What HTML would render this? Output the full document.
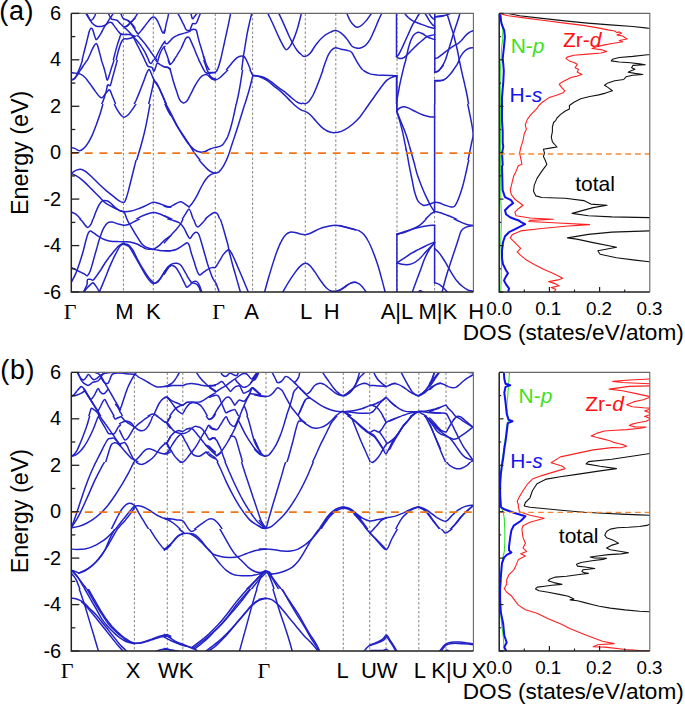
<!DOCTYPE html><html><head><meta charset="utf-8"><style>
html,body{margin:0;padding:0;background:#fff;width:685px;height:708px;overflow:hidden}
svg{display:block}
text{font-family:"Liberation Sans",sans-serif;fill:#000}
.g{font-family:"Liberation Serif",serif}
</style></head><body>
<svg width="685" height="708" viewBox="0 0 685 708">
<rect width="685" height="708" fill="#fff"/>
<clipPath id="cba"><rect x="71.3" y="13.4" width="402.09999999999997" height="278.6"/></clipPath>
<clipPath id="cda"><rect x="499.2" y="13.4" width="150.59999999999997" height="278.6"/></clipPath>
<line x1="123.4" y1="13.4" x2="123.4" y2="292" stroke="#8c8c8c" stroke-width="1.05" stroke-dasharray="2.5,2"/>
<line x1="153.3" y1="13.4" x2="153.3" y2="292" stroke="#8c8c8c" stroke-width="1.05" stroke-dasharray="2.5,2"/>
<line x1="215.3" y1="13.4" x2="215.3" y2="292" stroke="#8c8c8c" stroke-width="1.05" stroke-dasharray="2.5,2"/>
<line x1="252.6" y1="13.4" x2="252.6" y2="292" stroke="#8c8c8c" stroke-width="1.05" stroke-dasharray="2.5,2"/>
<line x1="305.3" y1="13.4" x2="305.3" y2="292" stroke="#8c8c8c" stroke-width="1.05" stroke-dasharray="2.5,2"/>
<line x1="335.8" y1="13.4" x2="335.8" y2="292" stroke="#8c8c8c" stroke-width="1.05" stroke-dasharray="2.5,2"/>
<line x1="397" y1="13.4" x2="397" y2="292" stroke="#8c8c8c" stroke-width="1.05" stroke-dasharray="2.5,2"/>
<line x1="434.6" y1="13.4" x2="434.6" y2="292" stroke="#8c8c8c" stroke-width="1.05" stroke-dasharray="2.5,2"/>
<g clip-path="url(#cba)" fill="none" stroke="#2222c6" stroke-width="1.5" stroke-linejoin="round" stroke-linecap="round">
<clipPath id="va0"><rect x="0" y="0" width="700" height="60"/></clipPath>
<g clip-path="url(#va0)">
<path d="M86.1,13.8 C86.5,14.5 87.9,16.7 88.6,17.8 C89.4,18.9 90.1,20.2 90.8,20.4 C91.6,20.6 92.4,19.7 93,18.9 C93.7,18.1 94.4,16.6 94.9,15.6 C95.3,14.7 95.5,13.8 95.6,13.5"/>
<path d="M86.8,13.5 C87.3,14.4 88.5,17.3 89.4,18.9 C90.3,20.6 91.2,22.1 92.3,23.3 C93.4,24.5 94.7,25.5 95.9,26 C97.2,26.6 98.4,26.6 99.6,26.6 C100.8,26.6 102.2,26.4 103.2,26 C104.3,25.6 105.3,24.9 106.2,24.4 C107,23.9 107.7,23.3 108.4,22.9 C109,22.6 109.6,22.2 110.2,22.2 C110.8,22.2 111.3,22.3 112,22.9 C112.7,23.6 113.5,24.9 114.2,25.9 C114.9,26.8 115.7,27.8 116.4,28.8 C117.1,29.8 117.8,30.9 118.6,31.7 C119.3,32.6 120,33.4 120.8,33.9 C121.5,34.4 122.1,34.4 123,34.5 C123.8,34.6 124.8,34.3 125.9,34.3 C127,34.4 128.4,34.5 129.5,34.6 C130.6,34.8 131.5,35.1 132.4,35.4 C133.4,35.6 134.6,36.1 135,36.2"/>
<path d="M82.1,60.2 C82.3,59.2 83.1,56.3 83.5,54.3 C84,52.4 84.4,50.9 85,48.5 C85.6,46.1 86.5,42.7 87.2,39.7 C87.9,36.8 88.8,32.9 89.4,31 C90,29.1 90.4,28.8 90.8,28.4 C91.3,28.1 91.8,28.1 92.3,28.9 C92.8,29.7 93.2,31.4 93.8,33.2 C94.4,34.9 95.2,38.7 95.9,39.4 C96.7,40 97.7,38.2 98.5,37.2 C99.4,36.1 100.1,34.7 101.1,33.2 C102,31.6 103,29.3 104,27.7 C105,26.1 105.9,24.8 106.9,23.3 C107.9,21.8 109,19.8 109.8,18.6 C110.6,17.4 111.1,16.9 111.6,16 C112.2,15.2 112.9,13.9 113.1,13.5"/>
<path d="M108.4,13.5 C108.7,14.1 109.6,16.1 110.2,17.1 C110.8,18.1 111.2,18.9 112,19.3 C112.8,19.7 114.1,19.5 114.9,19.7 C115.8,19.8 116.4,19.9 117.1,20.4 C117.8,20.9 118.6,21.9 119.3,22.6 C120,23.3 120.8,24.1 121.5,24.8 C122.2,25.4 123,26.3 123.7,26.6 C124.4,26.9 125.1,26.7 125.9,26.5 C126.6,26.2 127.3,25.7 128.1,25.1 C128.8,24.6 129.4,23.8 130.3,22.9 C131.1,22.1 132.4,20.8 133.2,20 C134,19.2 134.7,18.5 135,18.2"/>
<path d="M86.5,62.4 C86.9,61.3 88.4,58 89.4,55.8 C90.4,53.6 91.4,51 92.3,49.2 C93.2,47.5 93.8,46.2 94.5,45.2 C95.2,44.2 95.8,43.2 96.3,43.4 C96.9,43.6 97.2,44.7 97.8,46.3 C98.3,47.9 98.9,50.2 99.6,52.9 C100.3,55.6 101.7,60.8 102.2,62.4"/>
<path d="M112.7,62.4 C113.1,60.9 114.2,56.4 114.9,53.6 C115.7,50.8 116.4,48 117.1,45.6 C117.8,43.1 118.7,40.8 119.3,39 C119.9,37.2 120.2,35.4 120.8,34.6 C121.4,33.9 122.6,34.5 123,34.5"/>
<path d="M115.7,62.4 C116,60.8 117.1,55.7 117.8,52.9 C118.6,50.1 119.4,47.5 120,45.6 C120.7,43.6 121.3,42.3 121.9,41.2 C122.5,40.1 122.9,39.4 123.7,39 C124.5,38.6 125.5,39 126.6,38.9 C127.7,38.7 129.2,38.6 130.3,38.3 C131.4,38 132.4,37.5 133.2,37.2 C134,36.9 134.7,36.6 135,36.5"/>
<path d="M120.8,13.5 C121.1,14.3 122.3,17.2 123,18.2 C123.6,19.2 123.8,18.9 124.8,19.3 C125.8,19.7 127.5,19.9 128.8,20.8 C130.1,21.6 131.4,23.2 132.4,24.4 C133.5,25.6 134.6,27.5 135,28.1"/>
</g>
<clipPath id="va1"><rect x="0" y="0" width="700" height="60"/></clipPath>
<g clip-path="url(#va1)">
<path d="M136.9,35.7 C137.1,35.8 137.6,35.5 138.4,36.1 C139.1,36.7 140.3,38.3 141.3,39.4 C142.3,40.5 143.2,41.4 144.2,42.7 C145.2,43.9 146.1,45.3 147.1,46.7 C148.1,48 149.1,49.3 150,50.7 C151,52.1 152,53.7 153,55.1 C153.9,56.4 155.1,57.5 155.9,58.7 C156.7,59.9 157.4,61.8 157.7,62.4"/>
<path d="M128.1,20.8 C128.6,21.2 130.1,22.6 131.1,23.7 C132,24.8 132.8,26.1 133.6,27.3 C134.4,28.5 135.1,29.9 135.8,31 C136.5,32 137.2,33 137.6,33.5 C138.1,34 138.2,33.8 138.4,33.9"/>
<path d="M138.4,33.9 C138.8,33.4 140.2,32 141.3,30.6 C142.4,29.3 143.7,27.5 144.9,25.9 C146.1,24.3 147.5,22.5 148.6,21.1 C149.7,19.8 150.6,18.5 151.5,17.8 C152.3,17.2 153,17 153.7,17.1 C154.4,17.2 155.1,17.7 155.9,18.6 C156.6,19.4 157.3,20.8 158.1,22.2 C158.8,23.7 159.5,25.6 160.3,27.3 C161,29.1 162,32.3 162.8,32.8 C163.6,33.3 164.6,30.7 165,30.2"/>
<path d="M124.5,27.7 C125,28.1 126.4,29.3 127.4,30.2 C128.4,31.2 129.4,32.1 130.3,33.2 C131.3,34.3 132.4,35.5 133.2,36.8 C134.1,38.2 134.6,39.5 135.4,41.2 C136.3,42.9 137.4,45.1 138.4,47 C139.3,49 140.3,50.9 141.3,52.9 C142.3,54.8 143.5,57.1 144.2,58.7 C144.9,60.3 145.4,61.8 145.7,62.4"/>
<path d="M132.5,36.1 C133.1,36.7 135,38.4 136.2,39.7 C137.4,41.1 138.7,42.7 139.8,44.1 C140.9,45.6 141.8,46.9 142.7,48.5 C143.7,50.1 144.5,51.3 145.7,53.6 C146.8,55.9 149,60.9 149.7,62.4"/>
<path d="M153,62.4 C153.4,61.5 154.8,59.3 155.9,57.3 C157,55.2 158.4,52 159.5,50 C160.6,47.9 161.5,46.3 162.4,44.8 C163.4,43.4 164.6,41.8 165,41.2"/>
<path d="M157.3,62.4 C157.8,60.8 159.3,55.3 160.3,52.9 C161.2,50.4 162.4,48.9 163.2,47.8 C164,46.7 164.7,46.5 165,46.3"/>
<path d="M125.9,26.6 C126.3,26.4 127.4,25.7 128.1,25.1 C128.9,24.5 129.5,23.8 130.3,22.9 C131.2,22.1 132.3,21.1 133.2,20 C134.2,18.9 135.1,17.5 135.8,16.4 C136.5,15.3 137.3,13.9 137.6,13.5"/>
</g>
<clipPath id="va2"><rect x="0" y="0" width="700" height="60"/></clipPath>
<g clip-path="url(#va2)">
<path d="M164.3,33.2 C164.4,32.7 164.7,31.7 165,30.2 C165.3,28.8 165.7,26.4 166.1,24.4 C166.5,22.5 167.1,20.4 167.6,18.6 C168,16.7 168.5,14.3 168.6,13.5"/>
<path d="M177.8,13.5 C178.2,14.2 179.4,16.1 180.3,17.8 C181.2,19.5 182.3,21.8 183.2,23.7 C184.2,25.6 185.2,28.1 185.8,29.2 C186.4,30.2 186.4,29.9 186.9,30.1 C187.4,30.3 188.5,30.5 189.1,30.6 C189.6,30.7 190,30.6 190.2,30.6"/>
<path d="M164.3,42.5 C164.4,42.5 164.6,42.5 165,42.7 C165.4,42.9 166.1,43.9 166.8,43.8 C167.6,43.6 168.3,42.5 169.4,41.6 C170.4,40.6 171.7,38.9 173,37.9 C174.4,36.9 175.9,36 177.4,35.4 C178.9,34.7 180.3,34.4 181.8,33.9 C183.2,33.4 185,33 186.2,32.6 C187.4,32.2 188.3,32 189.1,31.6 C189.9,31.2 190.3,30.6 190.9,30.2 C191.5,29.9 192.1,29.5 192.7,29.4 C193.4,29.3 194.3,29.3 194.9,29.5 C195.5,29.7 195.9,29.5 196.4,30.6 C196.9,31.7 197.4,34.2 197.8,36.1 C198.3,38 198.7,39.7 199.3,41.9 C199.9,44.1 200.8,46.8 201.5,49.2 C202.2,51.7 203,54.3 203.7,56.5 C204.4,58.7 205.2,61.4 205.5,62.4"/>
<path d="M189.8,31 C190.1,30.2 190.8,27.8 191.3,26.6 C191.8,25.4 192.1,24.2 192.7,23.7 C193.3,23.2 194.3,23.8 194.9,23.7 C195.5,23.6 195.8,23.9 196.4,22.9 C197,22 197.9,19.4 198.6,17.8 C199.2,16.3 200.1,14.2 200.4,13.5"/>
<path d="M190.9,13.5 C191.2,14.3 191.8,18 192.4,18.6 C192.9,19.2 193.5,18 194.2,17.1 C194.9,16.3 196.3,14.1 196.8,13.5"/>
<path d="M164.3,47.8 C164.4,48.1 164.5,48.6 165,50 C165.5,51.3 166.5,53.7 167.2,55.8 C167.9,57.9 169,61.3 169.4,62.4"/>
<path d="M172.3,62.4 C173,61.3 175.2,58.1 176.7,55.8 C178.1,53.5 179.8,50.8 181.1,48.5 C182.3,46.2 183.1,43.7 184,41.9 C184.8,40.2 185.3,38.6 186.2,37.9 C187,37.2 188.2,36.9 189.1,37.5 C189.9,38.2 190.4,40.1 191.3,41.9 C192.1,43.8 193.2,46.2 194.2,48.5 C195.2,50.8 196.1,53.5 197.1,55.8 C198.1,58.1 199.5,61.3 200,62.4"/>
</g>
<clipPath id="va3"><rect x="0" y="0" width="302" height="70"/></clipPath>
<g clip-path="url(#va3)">
<path d="M203.5,56.2 C203.8,56.9 204.4,58.9 205,60.6 C205.6,62.3 206.3,64.7 207.2,66.4 C208,68.1 209.1,69.8 210.1,70.8 C211.1,71.7 212.2,72 213,72.2 C213.9,72.4 214.4,72.7 215.2,71.9 C216.1,71.2 217.2,70.2 218.1,67.9 C219.1,65.5 220.1,61.5 221.1,57.6 C222,53.7 223,48.9 224,44.5 C225,40.1 226,35.3 226.9,31.4 C227.7,27.5 228.5,24.2 229.1,21.1 C229.7,18.1 230.4,14.4 230.7,13.1"/>
<path d="M205,72.2 C205.7,72.8 207.9,74.8 209.4,75.9 C210.8,77 212.5,78.2 213.8,78.8 C215,79.4 215.5,79.9 216.7,79.5 C217.9,79.2 219.4,78.3 221.1,76.6 C222.8,74.9 225,71.7 226.9,69.3 C228.8,66.9 231,64 232.7,62 C234.4,60.1 235.7,58.7 237.1,57.6 C238.6,56.6 240.3,56 241.5,55.9 C242.7,55.8 243.4,55.9 244.4,56.9 C245.4,57.9 246.4,59.9 247.3,62 C248.3,64.1 249.4,67 250.3,69.3 C251.1,71.6 251.7,73.8 252.4,75.9 C253.2,78 254.3,80.7 254.6,81.7"/>
<path d="M240,81.7 C240.3,79.7 241.3,73.3 241.8,69.3 C242.3,65.3 242.7,61.5 243.2,57.6 C243.8,53.7 244.5,50.1 245.1,46 C245.8,41.8 246.6,36.7 247.3,32.8 C248.1,28.9 248.8,25.9 249.5,22.6 C250.3,19.3 251.5,14.7 251.9,13.1"/>
<path d="M203.5,71.1 C203.8,71.3 204.3,71.7 205,72.2 C205.7,72.8 206.8,73.5 207.9,74.4 C209,75.4 210.4,77 211.6,78.1 C212.8,79.1 214.6,80.3 215.2,80.7"/>
<path d="M252.4,75.9 C253.3,76 255.7,76 257.6,76.3 C259.4,76.7 261.4,77.2 263.4,78.1 C265.3,79 268.3,81.1 269.2,81.7"/>
<path d="M253.2,76.9 C254.4,77 258.3,77.1 260.5,77.6 C262.7,78.1 264.9,79.1 266.3,79.8 C267.8,80.5 268.7,81.4 269.2,81.7"/>
<path d="M267.8,13.1 C268.7,15.2 271.7,21.3 273.6,25.5 C275.6,29.8 277.6,34.9 279.5,38.7 C281.3,42.4 283.3,46.3 284.6,48.1 C285.8,50 285.9,49.8 286.8,49.6 C287.6,49.4 288.7,48 289.7,46.7 C290.6,45.3 291.4,44.4 292.6,41.6 C293.8,38.8 295.5,34.6 297,29.9 C298.5,25.2 300.7,15.9 301.5,13.1"/>
<path d="M278.7,13.1 C279.6,14.9 282.1,20.3 283.8,24.1 C285.5,27.8 287.5,32.6 288.9,35.7 C290.4,38.9 291.3,40.6 292.6,43 C293.9,45.5 295.5,48.4 297,50.3 C298.4,52.3 299.9,53.7 301.4,54.7 C302.8,55.7 305,56.2 305.7,56.5"/>
</g>
<clipPath id="va4"><rect x="302" y="0" width="398" height="70"/></clipPath>
<g clip-path="url(#va4)">
<path d="M297.8,54.4 C298.2,54.5 298.8,54.4 300,54.7 C301.2,55.1 303.4,56.7 305.1,56.5 C306.8,56.2 308.4,55.3 310.2,53.3 C312,51.3 313.9,47.3 316.1,44.5 C318.2,41.7 320.9,38.5 323.4,36.5 C325.8,34.4 328.6,33.1 330.7,32.1 C332.7,31.1 333.8,30.5 335.5,30.6 C337.2,30.7 339,31.5 340.9,32.8 C342.7,34.2 344.9,36.5 346.7,38.7 C348.5,40.8 350.2,44.4 351.8,46 C353.4,47.5 354.6,47.9 356.2,48.1 C357.8,48.4 359.7,48.2 361.3,47.7 C362.9,47.2 364.2,46.6 365.7,45.2 C367.2,43.8 368.6,41.9 370.1,39.4 C371.5,36.8 373.1,32.9 374.5,29.9 C375.8,26.9 376.9,23.9 378.1,21.1 C379.3,18.3 381.3,14.4 381.9,13.1"/>
<path d="M346.7,13.1 C347.3,14.4 349,18.9 350.4,21.1 C351.7,23.3 353.5,25.2 354.7,26.2 C356,27.3 356.6,27.4 357.7,27.3 C358.8,27.1 359.9,26.7 361.3,25.5 C362.8,24.4 364.7,22.5 366.4,20.4 C368.2,18.3 370.8,14.3 371.7,13.1"/>
<path d="M318.2,81.7 C319.1,79.4 321.8,72.1 323.4,67.9 C324.9,63.6 326.4,59.1 327.7,56.2 C329.1,53.3 330.1,51.7 331.4,50.3 C332.7,48.9 333.9,47.9 335.5,47.7 C337.1,47.5 338.8,48.7 340.9,49.2 C343,49.7 346.4,50.1 348.2,50.6 C350,51.2 350.6,51.1 351.8,52.5 C353,53.9 354.1,56.8 355.5,59.1 C356.8,61.4 358.4,64.3 359.9,66.4 C361.3,68.5 362.5,70.3 364.2,71.5 C365.9,72.7 367.9,73.1 370.1,73.7 C372.3,74.3 374.9,74.8 377.4,75.2 C379.8,75.5 382.4,75.8 384.7,75.9 C387,76 389.2,76 391.2,75.9 C393.3,75.8 395.9,75.5 396.8,75.4"/>
<path d="M383.9,81.7 C385,81.1 388.4,79.1 390.5,78.1 C392.7,77 395.7,75.9 396.8,75.4"/>
</g>
<clipPath id="va5"><rect x="0" y="0" width="700" height="60"/></clipPath>
<g clip-path="url(#va5)">
<path d="M396.5,13.5 396.5,56.5"/>
<path d="M434.8,13.5 434.8,62.4"/>
<path d="M396.5,56.5 C396.9,56.2 398,55.7 398.8,54.3 C399.7,53 400.7,50.8 401.8,48.5 C402.9,46.2 404.2,43.1 405.4,40.5 C406.6,37.8 408,34.9 409.1,32.4 C410.2,30 411.1,27.6 412,25.9 C412.8,24.2 413.4,23.4 414.2,22.2 C414.9,21 415.5,20 416.4,18.6 C417.2,17.1 418.9,14.3 419.4,13.5"/>
<path d="M404.7,13.5 C405.3,14.1 407.1,16.3 408.3,17.5 C409.5,18.6 411,19.7 412,20.4 C413,21.1 413.1,21 414.2,21.5 C415.3,22 417,22.7 418.5,23.3 C420.1,23.9 422,24.5 423.7,25.1 C425.4,25.7 426.9,26.4 428.8,27 C430.6,27.5 433.8,28.2 434.8,28.4"/>
<path d="M396.5,56.5 C396.8,56.8 397.4,57.6 398.1,58 C398.9,58.3 400.1,58.6 401,58.6 C402,58.5 403.1,58.1 403.9,57.6 C404.8,57.2 405.3,56.6 406.1,55.8 C407,55 407.8,54.1 409.1,52.9 C410.3,51.7 412,50 413.4,48.5 C414.9,47 416.4,45.5 417.8,44.1 C419.3,42.8 420.7,41.7 422.2,40.5 C423.7,39.3 425.1,37.7 426.6,36.8 C428,36 429.6,35.7 431,35.4 C432.3,35 434.2,34.7 434.8,34.6"/>
<path d="M405.3,62.4 C405.5,61.4 406,58.8 406.5,56.5 C407,54.2 407.7,51.1 408.3,48.5 C409,45.9 409.7,43.4 410.5,41.2 C411.4,39 412.5,36.8 413.4,35.4 C414.4,34 415.4,33.3 416.4,32.8 C417.3,32.3 418.3,32.3 419.3,32.4 C420.3,32.6 421.2,33 422.2,33.5 C423.2,34 424.1,34.7 425.1,35.4 C426.1,36 426.9,36.6 428,37.2 C429.1,37.7 430.6,38.3 431.7,38.6 C432.8,39 434.3,39.3 434.8,39.4"/>
<path d="M425.1,13.5 C425.5,14.1 426.6,15.9 427.3,17.1 C428,18.3 428.8,19.7 429.5,20.8 C430.2,21.9 431,22.8 431.7,23.7 C432.4,24.5 433.4,25.4 433.9,25.9 C434.4,26.3 434.7,26.2 434.8,26.2"/>
<path d="M428.8,13.5 C429.1,13.9 430.2,15.5 431,16.4 C431.7,17.2 432.5,18.1 433.1,18.6 C433.8,19.1 434.5,19.2 434.8,19.3"/>
<path d="M434.8,17.1 C435.2,17 436,16.6 436.8,16.4 C437.6,16.2 438.6,16.1 439.7,16 C440.8,15.9 442.8,15.7 443.4,15.6"/>
</g>
<clipPath id="va6"><rect x="0" y="0" width="700" height="60"/></clipPath>
<g clip-path="url(#va6)">
<path d="M434.7,16.7 C435.4,16.7 437.4,16.9 438.8,16.7 C440.2,16.6 441.8,16.3 443.1,16 C444.5,15.7 445.6,15.3 446.8,14.9 C447.9,14.5 449.5,13.7 450.1,13.5"/>
<path d="M446.8,13.5 C447.2,14.6 448.2,17.7 449,20 C449.7,22.3 450.4,25 451.2,27.3 C451.9,29.6 452.7,31.6 453.4,33.9 C454,36.2 454.6,38.8 455.2,41.2 C455.8,43.6 456.4,45.8 457,48.5 C457.6,51.2 458.4,54.9 458.8,57.3 C459.3,59.6 459.4,61.5 459.6,62.4"/>
<path d="M459.9,13.5 C459.6,14.7 458.5,18.4 457.7,20.8 C457,23.1 456.3,25.1 455.5,27.3 C454.8,29.5 454.1,31.6 453.4,33.9 C452.6,36.2 451.9,38.8 451.2,41.2 C450.4,43.6 449.7,46.1 449,48.5 C448.2,50.9 447.5,53.5 446.8,55.8 C446.1,58.1 445,61.3 444.6,62.4"/>
<path d="M434.7,58.4 C435.3,58.2 436.6,58.4 438,57.6 C439.4,56.8 441.3,55 443.1,53.6 C445,52.2 447,50.6 449,49.2 C450.9,47.8 453.4,46.1 454.8,45.2 C456.3,44.3 456.6,44.5 457.7,43.8 C458.8,43 460,41.9 461.4,40.5 C462.7,39.1 464.4,36.7 465.8,35.4 C467.1,34 468.1,33.3 469.4,32.4 C470.8,31.6 473.1,30.8 473.8,30.5"/>
<path d="M458.8,60.2 C459.3,59.3 460.4,56.6 461.4,55.1 C462.4,53.5 463.8,51.8 465,50.7 C466.3,49.6 467.2,49 468.7,48.5 C470.1,48 472.9,47.8 473.8,47.6"/>
</g>
<clipPath id="va7"><rect x="0" y="60" width="700" height="44"/></clipPath>
<g clip-path="url(#va7)">
<path d="M71.3,72.6 C71.8,72.7 73.4,72.8 74.4,73 C75.4,73.1 76.2,73.2 77.3,73.5 C78.4,73.7 79.7,73.8 80.9,74.4 C82.2,75 83.4,75.8 84.6,77 C85.8,78.1 87,79.8 88.2,81.4 C89.5,82.9 90.7,84.8 91.9,86.5 C93.1,88.2 94.3,89.9 95.5,91.6 C96.8,93.2 98.2,95.3 99.2,96.3 C100.2,97.4 100.9,97.7 101.5,97.8 C102.2,97.8 102.6,97.4 103.2,96.7 C103.9,96 104.7,94.7 105.4,93.8 C106.1,92.9 106.9,91.8 107.6,91.2 C108.3,90.6 109,89.3 109.8,90.1 C110.6,90.9 111.4,93.8 112.3,96 C113.2,98.1 114.5,101.2 115.3,103.3 C116,105.3 116.8,107.5 117.1,108.4"/>
<path d="M99.6,108.4 C100,107.5 101.3,105.1 102.1,103.3 C102.9,101.4 103.6,99.6 104.3,97.4 C105,95.2 105.9,92.2 106.5,90.1 C107,88 107.1,85.8 107.6,85 C108.1,84.2 108.9,85.5 109.4,85.5 C109.9,85.5 110,86.2 110.5,85 C111,83.8 111.7,80.9 112.3,78.4 C113,76 113.8,73.1 114.5,70.4 C115.3,67.7 116.1,64.5 116.7,62.4 C117.3,60.3 117.7,58.4 118,57.6"/>
<path d="M100.5,57.6 C101,59.2 102.7,63.9 103.6,66.8 C104.5,69.6 105.2,72.5 105.8,74.8 C106.4,77 106.6,80.3 107.2,80.3 C107.8,80.3 108.7,76.9 109.4,74.8 C110.1,72.7 110.9,69.8 111.6,67.5 C112.3,65.2 113.3,62.6 113.8,60.9 C114.3,59.3 114.5,58.2 114.7,57.6"/>
<path d="M71.3,79.9 C71.7,79.8 72.9,79.7 73.6,79.2 C74.4,78.7 75.1,77.8 75.8,77 C76.6,76.1 77.3,75.2 78,74.1 C78.8,73 79.4,71.7 80.2,70.4 C81.1,69.1 82.2,67.5 83.1,66 C84.1,64.6 85.1,63 86.1,61.6 C87.1,60.3 88.6,58.3 89.1,57.6"/>
<path d="M71.3,79.9 C71.6,79.8 72.3,79.9 72.9,79.5 C73.6,79.2 74.4,78.5 75.1,77.7 C75.8,76.9 76.4,75.9 76.9,74.8 C77.5,73.7 77.8,72.5 78.4,71.1 C78.9,69.8 79.7,68.2 80.2,66.8 C80.8,65.3 81.2,63.9 81.7,62.4 C82.2,60.9 83,58.4 83.3,57.6"/>
</g>
<clipPath id="va8"><rect x="0" y="60" width="700" height="44"/></clipPath>
<g clip-path="url(#va8)">
<path d="M132,108.4 C132.7,107 134.8,103.1 136.1,100.3 C137.3,97.5 138.5,94.6 139.7,91.6 C140.9,88.5 142.3,85 143.4,82.1 C144.5,79.2 145.4,76.1 146.3,74.1 C147.1,72 147.9,70.3 148.5,69.7 C149.1,69.1 149.3,69.4 149.9,70.4 C150.5,71.4 151.4,73.8 152.1,75.5 C152.8,77.2 153.5,79 154.3,80.6 C155.2,82.2 156.3,83.5 157.2,85 C158.1,86.5 158.9,87.8 159.8,89.4 C160.6,91 161.4,92.4 162.3,94.5 C163.2,96.6 164.4,99.5 165.3,101.8 C166.1,104.1 167.2,107.3 167.6,108.4"/>
<path d="M153.9,80.3 C154.4,80.8 156,82.3 156.9,83.5 C157.7,84.8 158.3,86.3 159.1,87.9 C159.8,89.5 160.5,91.2 161.2,93 C162,94.9 162.9,96.8 163.8,98.9 C164.6,100.9 165.7,103.9 166.4,105.4 C167,107 167.3,107.9 167.4,108.4"/>
<path d="M147.7,108.4 C148.1,106.8 149.2,102 149.9,98.9 C150.7,95.7 151.5,92.1 152.1,89.4 C152.7,86.7 153.2,84.4 153.6,82.8 C153.9,81.2 154.2,80.4 154.3,79.9"/>
<path d="M143.4,57.6 C143.7,58.3 144.8,60.3 145.5,61.6 C146.3,63 147,65.2 147.7,66 C148.5,66.9 149.2,66.5 149.9,66.8 C150.7,67 151.4,66.7 152.1,67.5 C152.8,68.3 153.3,71.6 153.9,71.5 C154.5,71.4 155.2,68.2 155.8,66.8 C156.3,65.4 156.5,63.5 157.2,63.1 C158,62.7 159.1,64 160.1,64.6 C161.2,65.2 162.6,66.3 163.8,66.8 C165,67.2 166.4,66.8 167.4,67.1 C168.5,67.5 169.9,68.6 170.4,68.9"/>
<path d="M147.7,57.6 C148,58.3 148.7,60.7 149.2,61.6 C149.7,62.6 150.1,63.5 150.7,63.5 C151.2,63.5 151.9,62.6 152.5,61.6 C153.1,60.7 154,58.3 154.3,57.6"/>
<path d="M154.3,57.6 C154.5,58.1 155.2,59.5 155.8,60.2 C156.3,60.9 157.1,62.1 157.6,61.6 C158.1,61.2 158.5,58.3 158.7,57.6"/>
<path d="M167.4,57.6 C167.7,58.3 168.4,60.6 168.9,61.6 C169.4,62.7 170.1,63.8 170.4,64.2"/>
</g>
<clipPath id="va9"><rect x="0" y="60" width="700" height="44"/></clipPath>
<g clip-path="url(#va9)">
<path d="M165,67.1 C165.5,67.2 167.1,67.1 167.9,67.5 C168.8,67.9 169.5,68.5 170.1,69.7 C170.7,70.9 171,72.6 171.6,74.8 C172.2,77 172.9,80 173.8,82.8 C174.6,85.6 175.7,88.8 176.7,91.6 C177.7,94.4 178.5,97.7 179.6,99.6 C180.7,101.5 182,102.6 183.2,102.9 C184.5,103.1 185.7,102.5 186.9,101.1 C188.1,99.7 189.3,96.8 190.5,94.5 C191.8,92.2 192.9,89.6 194.2,87.2 C195.5,84.8 197.2,81.8 198.6,79.9 C199.9,78 201,76.8 202.2,75.9 C203.4,75 204.8,74.4 205.9,74.4 C207,74.4 207.8,75.2 208.8,75.9 C209.8,76.6 210.6,78.1 211.7,78.8 C212.8,79.5 214.8,79.7 215.4,79.9"/>
<path d="M167.9,57.6 C168.1,58.4 168.6,61.2 169,62.4 C169.4,63.5 169.4,64.7 170.1,64.6 C170.8,64.4 172.1,62.8 173,61.6 C174,60.5 175.5,58.3 175.9,57.6"/>
<path d="M197.5,57.6 C198,58.7 199.7,61.8 200.8,63.8 C201.8,65.8 202.8,68.2 203.7,69.7 C204.5,71.1 205,72 205.9,72.6 C206.7,73.2 207.7,73.3 208.8,73.3 C209.9,73.3 211.4,72.7 212.4,72.6 C213.5,72.5 214.9,72.6 215.4,72.6"/>
<path d="M203,57.6 C203.3,58.7 204.4,61.7 205.1,63.8 C205.9,66 206.6,68.6 207.3,70.4 C208.1,72.2 208.8,73.6 209.5,74.8 C210.3,76 210.7,77 211.7,77.7 C212.7,78.4 214.8,78.9 215.4,79.2"/>
<path d="M165,101.8 C165.2,102.3 166,103.6 166.5,104.7 C166.9,105.8 167.5,107.8 167.7,108.4"/>
</g>
<clipPath id="va10"><rect x="0" y="70" width="265" height="34"/><rect x="265" y="70" width="37" height="650"/></clipPath>
<g clip-path="url(#va10)">
<path d="M209.3,72.4 C210.2,72.4 213.6,73 215.1,72.4 C216.6,71.8 217.1,70.6 218,68.8 C219,66.9 220.3,63 220.9,61.5 C221.6,59.9 221.6,59.6 221.7,59.3"/>
<path d="M209.3,76.4 C209.9,76.8 211.8,78.4 212.9,79 C214,79.5 214.6,80 215.8,79.7 C217.1,79.5 218.5,78.9 220.2,77.5 C221.9,76.2 224.1,73.6 226.1,71.7 C228,69.7 230.1,67.9 231.9,65.8 C233.6,63.8 235.8,60.4 236.6,59.3"/>
<path d="M244.7,59.3 C245.3,60.4 246.9,63.8 248,65.8 C249,67.9 250,70.1 250.9,71.7 C251.7,73.3 251.8,74.6 253.1,75.3 C254.3,76.1 256.4,75.7 258.2,76.1 C260,76.4 261.8,76.5 264,77.5 C266.2,78.5 268.9,80.2 271.3,81.9 C273.7,83.6 276.2,85.9 278.6,87.7 C281,89.6 283.7,91.1 285.9,92.8 C288.1,94.5 289.8,96.4 291.8,98 C293.7,99.5 295.6,101.4 297.6,102.3 C299.5,103.3 301.7,103.7 303.4,103.8 C305.1,103.9 306.6,103.4 307.8,103.1 C309,102.8 310.2,102.2 310.7,102"/>
<path d="M253.1,75.3 C254.2,75.6 257.3,75.9 259.6,76.8 C261.9,77.6 264.5,78.9 266.9,80.4 C269.4,82 271.8,84.3 274.2,86.3 C276.7,88.2 279.1,89.9 281.5,92.1 C284,94.3 286.6,97.2 288.8,99.4 C291,101.6 292.7,103.6 294.7,105.3 C296.6,107 298.6,108.5 300.5,109.6 C302.5,110.7 304.6,111 306.4,111.8 C308.1,112.6 310,113.9 310.7,114.3"/>
<path d="M228,133.7 C228.9,130.7 231.7,121.4 233.4,115.5 C235,109.5 236.5,103.6 237.7,98 C239,92.4 239.8,86.8 240.7,81.9 C241.5,77 242.1,72.5 242.8,68.8 C243.6,65 244.7,60.9 245,59.3"/>
<path d="M236.7,133.7 C237.5,131.2 239.9,123.4 241.2,118.4 C242.6,113.4 243.7,108.7 245,103.8 C246.4,98.9 248.1,93.9 249.4,89.2 C250.7,84.5 252.2,78 252.8,75.8"/>
</g>
<clipPath id="va11"><rect x="302" y="70" width="398" height="650"/></clipPath>
<g clip-path="url(#va11)">
<path d="M299.3,102 C300.2,102.3 303.5,103.9 305.1,103.8 C306.7,103.7 307.4,103.1 308.8,101.6 C310.1,100.1 311.7,97.8 313.1,95 C314.6,92.2 316.1,88.5 317.5,84.8 C319,81.2 320.6,76.8 321.9,73.1 C323.2,69.5 324.6,65.2 325.5,62.9 C326.4,60.6 327,59.9 327.3,59.3"/>
<path d="M299.3,110.2 C300.2,110.4 303.3,110.6 305.1,111.4 C306.9,112.1 308.4,113.1 310.2,114.7 C312,116.4 313.9,119 316.1,121.3 C318.2,123.6 320.9,126.8 323.4,128.6 C325.8,130.4 328.2,131.7 330.7,132.3 C333.1,132.9 335.5,132.7 338,132.3 C340.4,131.8 342.8,130.7 345.3,129.3 C347.7,128 350.1,126.3 352.6,124.2 C355,122.2 357.4,119.9 359.9,116.9 C362.3,114 364.7,110.1 367.2,106.7 C369.6,103.3 372,99.9 374.5,96.5 C376.9,93.1 379.6,89.1 381.8,86.3 C383.9,83.5 385.6,81.3 387.6,79.7 C389.5,78.1 391.9,77.4 393.4,76.8 C395,76.1 396.2,75.9 396.8,75.8"/>
<path d="M355.9,59.3 C356.6,60.4 358.5,63.9 359.9,65.8 C361.2,67.8 362.5,69.6 364.2,70.9 C365.9,72.3 367.9,73.2 370.1,73.9 C372.3,74.5 374.9,74.6 377.4,74.9 C379.8,75.1 382.2,75.2 384.7,75.3 C387.1,75.5 390,75.5 392,75.6 C394,75.7 396,75.7 396.8,75.8"/>
<path d="M396.8,75.8 396.8,110.4"/>
</g>
<clipPath id="va12"><rect x="0" y="60" width="700" height="44"/></clipPath>
<g clip-path="url(#va12)">
<path d="M396.5,75.9 396.5,108.4"/>
<path d="M392.6,75.9 L396.5,75.9"/>
<path d="M406.6,57.6 C406.3,58.7 405.4,61.3 404.7,63.8 C404,66.3 403.2,69.6 402.5,72.6 C401.8,75.6 401,78.9 400.3,82.1 C399.6,85.3 399,88.5 398.5,91.6 C397.9,94.6 397.3,98.1 397,100.3 C396.7,102.5 396.6,103.7 396.6,104.7 C396.7,105.7 396.8,106.2 397.4,106.5 C398,106.9 399.2,107 400.3,106.9 C401.4,106.8 402.7,106.2 403.9,106.2 C405.2,106.2 406.6,106.5 407.6,106.9 C408.6,107.3 409.7,108.1 410.2,108.4"/>
<path d="M434.8,57.6 434.8,72.2"/>
<path d="M434.8,80.6 434.8,108.4"/>
<path d="M434.8,72.2 C435.3,72.1 436.6,72.1 437.5,71.5 C438.5,71 439.5,70 440.4,68.9 C441.4,67.9 442.9,65.8 443.4,65.2"/>
<path d="M434.8,80.6 C435.4,80.6 436.8,80.5 438.3,80.5 C439.7,80.4 442.5,80.3 443.4,80.3"/>
</g>
<clipPath id="va13"><rect x="0" y="60" width="700" height="44"/></clipPath>
<g clip-path="url(#va13)">
<path d="M434.7,71.9 C435.2,71.8 436.4,72 437.3,71.5 C438.2,71 439.2,70.1 440.2,68.9 C441.2,67.8 442.3,66 443.1,64.6 C444,63.1 444.8,61.3 445.3,60.2 C445.8,59 446.1,58.1 446.2,57.6"/>
<path d="M434.7,80.6 C435.2,80.7 436.1,81 437.3,81 C438.5,81 440.2,81.1 441.7,80.6 C443.1,80.2 444.6,79.5 446.1,78.4 C447.5,77.3 449.1,75.6 450.4,74.1 C451.8,72.5 453,70.5 454.1,68.9 C455.2,67.4 456.2,65.9 457,64.6 C457.8,63.2 458.3,62.1 458.8,60.9 C459.3,59.8 459.9,58.2 460.1,57.6"/>
<path d="M458.9,57.6 C459,58.1 459.1,58.7 459.3,60.2 C459.6,61.7 460.1,64.1 460.7,66.8 C461.2,69.4 462.1,73.1 462.8,76.2 C463.6,79.4 464.3,82.5 465,85.7 C465.8,89 466.5,92.2 467.2,96 C467.9,99.7 468.9,106.3 469.2,108.4"/>
</g>
<clipPath id="va14"><rect x="0" y="104" width="700" height="56"/></clipPath>
<g clip-path="url(#va14)">
<path d="M71.2,147.4 C71.9,147.7 74.5,148.3 75.8,148.9 C77.2,149.5 78.3,150.8 79.5,150.8 C80.7,150.8 81.8,150.1 83.1,148.9 C84.5,147.7 86.1,146 87.5,143.8 C89,141.6 90.4,138.9 91.9,135.8 C93.4,132.6 94.9,128.3 96.3,124.8 C97.6,121.3 98.8,118 99.9,114.6 C101,111.2 102.1,106.9 102.8,104.4 C103.6,101.8 104.3,100.1 104.6,99.3"/>
<path d="M112,99.3 C112.8,100.9 115.2,106.1 116.7,108.8 C118.2,111.4 119.9,113.9 121.1,115.3 C122.3,116.7 122.9,117.2 124,117.2 C125.1,117.2 126.4,116.4 127.7,115.3 C128.9,114.3 130,112.8 131.3,110.9 C132.7,109.1 134.5,106.3 135.7,104.4 C136.8,102.4 137.8,100.1 138.2,99.3"/>
<path d="M132.5,173.7 C133.3,171.2 135.6,163.4 137.2,158.4 C138.7,153.4 140.2,148.7 141.5,143.8 C142.9,138.9 144.1,134.1 145.2,129.2 C146.3,124.3 147.3,119 148.1,114.6 C149,110.2 149.8,105.5 150.3,102.9 C150.8,100.4 151,99.9 151.2,99.3"/>
<path d="M163.1,99.3 C163.8,100.9 165.8,106.1 167.1,108.8 C168.3,111.4 170.1,114.2 170.7,115.3"/>
<path d="M71.2,172.3 C71.9,171.9 74.3,170.6 75.8,170.1 C77.3,169.6 78.9,169.2 80.2,169.3 C81.6,169.5 82.7,170.1 83.9,170.8 C85,171.5 86.7,173.2 87.2,173.7"/>
</g>
<clipPath id="va15"><rect x="0" y="104" width="700" height="56"/></clipPath>
<g clip-path="url(#va15)">
<path d="M164.6,101.5 C165.6,103.4 168.8,109.2 170.8,113.1 C172.9,117 174.7,121.2 176.7,124.8 C178.6,128.5 180.6,131.9 182.5,135 C184.5,138.2 186.4,141.4 188.4,143.8 C190.3,146.2 192.3,148.2 194.2,149.6 C196.1,151 198.3,151.8 200,152.1 C201.7,152.5 203,152.2 204.4,151.8 C205.9,151.4 207.3,150.3 208.8,149.6 C210.3,149 211.7,148.3 213.2,147.9 C214.6,147.4 216.1,147.4 217.6,147 C219,146.6 220.7,146.2 221.9,145.3 C223.2,144.4 223.9,143.1 224.9,141.6 C225.8,140.1 226.8,138.8 227.8,136.5 C228.7,134.2 229.7,131.1 230.7,127.7 C231.7,124.3 232.8,119.7 233.6,116.1 C234.5,112.4 235.2,108.6 235.8,105.8 C236.4,103 237.1,100.4 237.4,99.3"/>
<path d="M164.6,102.6 C165.6,104.6 168.8,110.8 170.8,114.6 C172.9,118.4 174.5,121.9 176.7,125.5 C178.9,129.2 181.8,133.2 184,136.5 C186.2,139.8 188.1,142.6 189.8,145.3 C191.5,147.9 192.5,150.1 194.2,152.6 C195.9,155 198.1,157.5 200,159.9 C202,162.2 203.9,164.5 205.9,166.4 C207.8,168.4 210.1,170.4 211.7,171.5 C213.3,172.6 214.1,173 215.4,173 C216.6,173 217.7,172.7 219,171.5 C220.4,170.3 221.9,168.1 223.4,165.7 C224.9,163.3 226.3,160.6 227.8,156.9 C229.2,153.3 230.7,148.2 232.2,143.8 C233.6,139.4 235.2,134.8 236.5,130.7 C237.9,126.5 239,122.9 240.2,119 C241.4,115.1 242.8,110.6 243.8,107.3 C244.8,104 245.8,100.6 246.2,99.3"/>
</g>
<clipPath id="va16"><rect x="0" y="104" width="700" height="47"/></clipPath>
<g clip-path="url(#va16)">
<path d="M396.8,99.4 396.8,111.3"/>
<path d="M396.8,111.3 C397.2,110.8 397.9,109.2 399,108.5 C400.2,107.7 402.1,106.9 403.6,106.8 C405.1,106.7 406.2,107.2 408.1,107.9 C410,108.7 412.2,110.1 414.9,111.3 C417.5,112.5 421.3,114.3 423.9,115.3 C426.6,116.2 428.9,116.7 430.7,117 C432.5,117.3 434,117 434.7,117"/>
<path d="M396.8,111.3 C397.4,113.2 399.1,118.9 400.2,122.6 C401.2,126.4 402.2,130.2 403,133.9 C403.9,137.7 404.7,142.6 405.3,145.2 C405.8,147.9 406.1,149 406.2,149.8"/>
<path d="M397,111.9 C397.7,113.7 399.8,118.9 401.3,122.6 C402.8,126.3 404.5,130.2 405.8,133.9 C407.2,137.7 408.5,142.6 409.2,145.2 C410,147.9 410.3,149 410.5,149.8"/>
</g>
<clipPath id="va17"><rect x="0" y="104" width="440" height="45"/><rect x="440" y="104" width="260" height="56"/></clipPath>
<g clip-path="url(#va17)">
<path d="M434.6,99.3 434.6,173.7"/>
<path d="M466.7,99.3 C467.2,101.8 468.8,108.9 469.9,114.6 C471,120.3 472.9,128.7 473.1,133.6 C473.3,138.4 472.1,139.7 471.4,143.8 C470.6,147.9 469.5,153.4 468.4,158.4 C467.4,163.4 465.8,171.2 465.2,173.7"/>
</g>
<clipPath id="va18"><rect x="0" y="160" width="700" height="59"/></clipPath>
<g clip-path="url(#va18)">
<path d="M71.2,173.4 C71.9,172.9 74.2,171.1 75.8,170.4 C77.5,169.8 79.2,169 80.9,169.3 C82.7,169.5 84.2,170.6 86.1,171.9 C87.9,173.2 89.7,174.9 91.9,177 C94.1,179.1 96.8,182 99.2,184.3 C101.6,186.6 104.1,188.8 106.5,190.9 C108.9,192.9 111.6,195 113.8,196.7 C116,198.4 117.9,200.2 119.6,201.1 C121.3,202 122.9,202.7 124,202.3 C125.1,201.8 125.5,200.1 126.2,198.2 C126.9,196.3 127.5,194 128.4,190.9 C129.2,187.7 130.3,183.1 131.3,179.2 C132.3,175.3 133.3,171.4 134.2,167.5 C135.2,163.6 136.4,158.9 137.2,155.8 C137.9,152.8 138.6,150.4 138.9,149.3"/>
<path d="M71.2,173.4 C72.2,173.8 75.1,174.8 77.3,176.3 C79.5,177.7 82.2,179.9 84.6,182.1 C87,184.3 89.5,187 91.9,189.4 C94.3,191.8 97,194.5 99.2,196.7 C101.4,198.9 103.1,201 105,202.6 C107,204.1 108.9,205.1 110.9,206.2 C112.8,207.3 115,208.3 116.7,209.1 C118.4,209.9 119.9,210.6 121.1,211 C122.3,211.4 122.6,211.6 124,211.6 C125.5,211.7 127.7,211.7 129.9,211.3 C132,210.9 134.7,210 137.2,209.1 C139.6,208.3 142,207.3 144.5,206.2 C146.9,205.1 150,203.2 151.8,202.6 C153.5,201.9 153.2,202 154.7,202.3 C156.1,202.5 158.6,203.4 160.5,204 C162.5,204.7 164.6,205.7 166.4,206.2 C168.1,206.7 170,207.1 170.7,207.2"/>
<path d="M91.6,223.7 C92.3,221.9 94.3,215.9 95.5,212.8 C96.8,209.6 98.1,206.7 99.2,204.7 C100.3,202.8 100.9,201.8 102.1,201.1 C103.3,200.4 105.2,200.6 106.5,200.8 C107.8,201 108.9,201.7 110.1,202.6 C111.4,203.5 112.2,204.9 113.8,206.2 C115.4,207.5 117.9,209.6 119.6,210.6 C121.3,211.6 122.9,210.9 124,212 C125.1,213.1 125.4,215.2 126.2,217.2 C127,219.1 128.3,222.6 128.7,223.7"/>
<path d="M129.6,223.7 C130.8,222.9 134.7,220.1 137.2,218.6 C139.6,217.2 141.8,216 144.5,215 C147.1,213.9 150.5,212.6 153.2,212.5 C155.9,212.4 158.3,213.5 160.5,214.2 C162.7,215 164.6,216.3 166.4,217.2 C168.1,218.1 170,219.2 170.7,219.6"/>
<path d="M71.2,212 C71.9,212.4 74.3,213.1 75.8,214.2 C77.3,215.3 78.8,217 80.2,218.6 C81.6,220.2 83.6,222.9 84.3,223.7"/>
<path d="M106.5,223.7 C107.2,223.4 109.5,221.5 110.9,221.5 C112.2,221.5 113.9,223.4 114.5,223.7"/>
</g>
<clipPath id="va19"><rect x="0" y="160" width="700" height="59"/></clipPath>
<g clip-path="url(#va19)">
<path d="M191,149.3 C192,150.6 195.1,154.7 197.1,157.3 C199.1,159.9 201,162.4 203,164.6 C204.9,166.8 207.1,169.1 208.8,170.4 C210.5,171.8 212.1,172.2 213.2,172.6 C214.3,173.1 214.4,173.2 215.4,173.1 C216.3,172.9 217.7,173.1 219,171.9 C220.4,170.7 221.9,168.5 223.4,166.1 C224.9,163.6 226.4,160.1 227.8,157.3 C229.2,154.5 231.1,150.6 231.7,149.3"/>
<path d="M215.4,173.1 C214.5,173.4 211.8,173.8 210.3,174.8 C208.7,175.8 207.3,177.3 205.9,179.2 C204.4,181.1 203,183.8 201.5,186.5 C200,189.2 198.6,192.6 197.1,195.3 C195.7,197.9 194.1,200.6 192.7,202.6 C191.4,204.5 189.7,206.2 189.1,206.9"/>
<path d="M164.3,206.2 C165.1,206.3 167.6,207.3 169.4,206.9 C171.2,206.6 173.4,204.9 175.2,204 C177,203.2 178.9,201.9 180.3,201.8 C181.8,201.7 182.5,202.4 184,203.3 C185.4,204.1 188.2,206.3 189.1,206.9"/>
<path d="M179.6,222.3 C180.1,221.7 181.5,220 182.5,218.6 C183.5,217.3 184.3,215.8 185.4,214.2 C186.5,212.7 188,208.9 189.1,209.1 C190.2,209.4 191.1,213.3 192,215.7 C192.9,218.1 194.1,222.4 194.5,223.7"/>
<path d="M164.3,215.7 C165.4,216.2 168.8,217.6 170.8,218.6 C172.9,219.6 175.2,220.9 176.7,221.5 C178.1,222.1 179,221.9 179.6,222.3 C180.2,222.6 180.2,223.5 180.3,223.7"/>
<path d="M201.2,223.7 C202.2,222.6 205.1,219 207.3,217.2 C209.6,215.3 212.9,213 214.6,212.5 C216.3,212 216.4,212.4 217.6,214.2 C218.7,216.1 220.8,222.1 221.5,223.7"/>
</g>
<clipPath id="va20"><rect x="0" y="149" width="440" height="70"/><rect x="440" y="160" width="260" height="59"/></clipPath>
<g clip-path="url(#va20)">
<path d="M406.2,149.9 C406.4,150.4 406.5,150.6 407,153.2 C407.5,155.8 408.3,161.2 409.2,165.6 C410,170.1 411.2,175.5 412.1,179.9 C413,184.4 413.7,188.8 414.7,192.3 C415.7,195.9 416.7,199 418.1,201.1 C419.5,203.2 421.6,204.6 423.2,205.2 C424.8,205.8 426.1,205.1 427.6,204.7 C429,204.4 430.8,203.7 431.9,203.3 C433.1,202.9 433.3,202.3 434.6,202.3 C435.8,202.2 437.5,202.4 439.2,202.8 C441,203.3 443.1,204.5 445.1,205.2 C447,205.9 449.3,206.8 450.9,206.9 C452.5,207.1 453.3,207.4 454.6,206.2 C455.8,205 456.9,202.9 458.2,199.6 C459.5,196.4 461.4,190.6 462.6,186.5 C463.8,182.4 464.5,179 465.5,174.8 C466.5,170.7 467.4,165.9 468.4,161.7 C469.4,157.4 471,151.3 471.5,149.3"/>
<path d="M410.5,149.9 C410.6,150.4 410.9,151 411.5,153.2 C412.1,155.5 413.3,159.7 414.3,163.3 C415.2,166.9 416.1,170.9 417.3,174.8 C418.6,178.7 420.3,182.8 421.7,186.5 C423.2,190.1 424.6,193.6 426.1,196.7 C427.6,199.9 429.1,203 430.5,205.5 C431.9,208 433.9,210.6 434.6,211.6"/>
<path d="M434.6,211.6 C435.3,211.8 437.2,211.9 439.2,212.5 C441.2,213 444.1,214.1 446.5,215 C449,215.9 451.6,216.9 453.8,217.9 C456,218.9 457.6,219.8 459.7,220.8 C461.7,221.8 465.1,223.2 466.2,223.7"/>
<path d="M421.4,223.7 C422.2,222.9 424.6,220.2 426.1,218.6 C427.6,217 429.1,215.4 430.5,214.2 C431.9,213.1 433.9,212 434.6,211.6"/>
<path d="M434.6,149.3 434.6,211.6"/>
</g>
<clipPath id="va21"><rect x="0" y="219" width="700" height="501"/></clipPath>
<g clip-path="url(#va21)">
<path d="M75.5,214.3 C76.6,215.4 79.7,218.6 81.7,220.8 C83.7,223 85.9,226.9 87.5,227.4 C89.1,227.9 90,225.9 91.2,223.8 C92.3,221.6 93.8,215.9 94.4,214.3"/>
<path d="M71.2,282.4 C71.9,280.9 74.5,276.6 75.8,273.4 C77.2,270.2 78.3,266.8 79.5,263.2 C80.7,259.5 82,255.4 83.1,251.5 C84.2,247.6 85.2,242.9 86.1,239.8 C86.9,236.8 87.5,234.7 88.2,233.2 C89,231.8 89.5,231.1 90.4,231.1 C91.4,231.1 92.6,232.3 94.1,233.2 C95.5,234.2 97.4,235.8 99.2,236.9 C101,238 103.1,239.1 105,239.8 C107,240.5 108.7,241 110.9,241.3 C113.1,241.6 116,241.5 118.2,241.6 C120.4,241.6 122.1,241.6 124,241.7 C126,241.8 127.9,241.7 129.9,242 C131.8,242.3 133.7,242.7 135.7,243.5 C137.6,244.2 139.8,245.5 141.5,246.4 C143.2,247.3 144.2,248.4 145.9,248.9 C147.6,249.4 149.8,249.1 151.8,249.3 C153.7,249.5 155.6,249.8 157.6,250 C159.5,250.3 161.2,250.6 163.4,250.8 C165.6,250.9 169.5,250.8 170.7,250.8"/>
<path d="M71.2,267.3 C71.9,267.7 74.3,269 75.8,269.7 C77.3,270.5 78.8,271.2 80.2,271.9 C81.7,272.7 83.4,273.5 84.6,274.1 C85.8,274.7 86.5,276.2 87.5,275.6 C88.5,275 89.5,273 90.4,270.5 C91.4,267.9 92.4,263.7 93.4,260.3 C94.3,256.8 95.3,253.4 96.3,250 C97.3,246.6 98,243.5 99.2,239.8 C100.4,236.2 102.1,231 103.6,228.1 C105,225.3 106.5,223.6 108,222.6 C109.4,221.6 110.6,221.8 112.3,222 C114,222.3 116.2,223.5 118.2,224.1 C120.1,224.6 122.3,225.1 124,225.2 C125.7,225.3 126.7,225.1 128.4,224.5 C130.1,223.9 132.3,222.5 134.2,221.6 C136.2,220.6 138,219.9 140.1,218.6 C142.1,217.4 145.5,215 146.6,214.3"/>
<path d="M125.2,214.3 C125.6,215.4 126.9,219.1 127.7,220.8 C128.4,222.5 129,223 129.9,224.5 C130.7,225.9 131.6,227.5 132.8,229.6 C134,231.7 135.7,234.6 137.2,236.9 C138.6,239.2 140.1,241.8 141.5,243.5 C143,245.2 144.2,246.2 145.9,247.1 C147.6,248 150.4,248.6 151.8,248.9 C153.1,249.2 152.7,249.5 153.9,249 C155.2,248.5 157.2,247.2 159.1,245.7 C160.9,244.1 162.9,241.5 164.9,239.8 C166.8,238.2 169.8,236.4 170.7,235.7"/>
<path d="M123.3,243.5 C124.1,243.7 126.8,243.8 128.4,244.9 C130,246 131.3,247.7 132.8,250 C134.2,252.3 135.5,255.6 137.2,258.8 C138.9,262 141,265.9 143,269 C144.9,272.2 147,275.5 148.8,277.8 C150.7,280.1 152.5,282.2 153.9,282.9 C155.4,283.6 156.3,283.2 157.6,282.2 C158.9,281.1 160.5,278.5 162,276.3 C163.4,274.1 164.9,270.9 166.4,269 C167.8,267.1 170,265.6 170.7,264.9"/>
<path d="M123.7,244.1 C124.6,244.5 127.4,245 129.1,246.8 C130.9,248.7 132.4,252.1 134.2,255.1 C136.1,258.2 138.1,262 140.1,265.4 C142,268.8 144.1,272.8 145.9,275.6 C147.7,278.4 149.7,280.8 151,282.2 C152.4,283.5 152.6,284 153.9,283.6 C155.3,283.2 157.5,281.7 159.1,280 C160.6,278.3 162,275.5 163.4,273.4 C164.9,271.3 166.6,268.8 167.8,267.6 C169,266.3 170.2,266.1 170.7,265.8"/>
<path d="M157.6,214.3 C158.6,214.8 161.2,216.3 163.4,217.2 C165.6,218.1 169.5,219.3 170.7,219.7"/>
</g>
<clipPath id="va22"><rect x="0" y="219" width="700" height="501"/></clipPath>
<g clip-path="url(#va22)">
<path d="M164.3,216.9 C165.6,217.4 169.7,219.1 172.3,220.1 C174.9,221.1 177.7,221.7 179.6,223 C181.5,224.4 182.8,226.3 184,228.1 C185.2,230 185.9,232.3 186.9,234 C187.9,235.7 188.8,238.2 189.8,238.4 C190.8,238.5 191.8,235.7 192.7,234.7 C193.7,233.7 194.7,232.3 195.7,232.2 C196.6,232.1 197.6,232.2 198.6,234 C199.5,235.7 200.5,239.6 201.5,242.7 C202.5,245.9 203.4,249.5 204.4,253 C205.4,256.4 206.4,260 207.3,263.2 C208.3,266.3 209.3,269.3 210.3,271.9 C211.2,274.6 212.2,277.3 213.2,279.2 C214.1,281.2 215.1,281.4 216.1,283.6 C217.1,285.8 218.8,290.9 219.3,292.4"/>
<path d="M164.3,242.7 C165.4,241.5 168.8,237.7 170.8,235.4 C172.9,233.1 175,230.9 176.7,228.9 C178.4,226.8 179.7,225.5 181.1,223 C182.4,220.6 184.3,215.7 185,214.3"/>
<path d="M191.7,214.3 C192.1,215.4 193.4,218.9 194.2,220.8 C195,222.8 195.7,225 196.4,225.9 C197.1,226.9 197.5,227.3 198.6,226.7 C199.7,226.1 201.5,223.9 203,222.3 C204.4,220.7 206.2,218.5 207.3,217.2 C208.5,215.9 209.4,214.8 209.8,214.3"/>
<path d="M164.3,250.8 C165.4,250.8 168.8,251 170.8,250.8 C172.9,250.5 174.7,250.2 176.7,249.3 C178.6,248.5 180.8,246.8 182.5,245.7 C184.2,244.6 185.8,242.9 186.9,242.7 C188,242.6 188.4,243.2 189.1,244.9 C189.8,246.6 190.4,250.2 191.3,253 C192.1,255.8 193.3,259 194.2,261.7 C195,264.4 195.5,266.8 196.4,269 C197.2,271.2 198.2,274.2 199.3,274.9 C200.4,275.5 201.6,273.5 203,272.7 C204.3,271.8 205.9,270.6 207.3,269.7 C208.8,268.9 210.4,268 211.7,267.6 C213.1,267.1 214.1,268.2 215.4,267.3 C216.6,266.3 217.7,263.9 219,261.7 C220.4,259.6 221.9,256.4 223.4,254.4 C224.9,252.5 226.7,250.6 227.8,250 C228.9,249.4 229,249.5 230,250.8 C230.9,252 232.3,254.5 233.6,257.3 C235,260.1 236.5,264.1 238,267.6 C239.5,271 241,274.6 242.4,277.8 C243.7,280.9 245,284.1 246,286.5 C247,289 248.1,291.4 248.5,292.4"/>
<path d="M215.1,214.3 C215.7,214.6 217.9,214.9 219,216.5 C220.2,218 221,220.8 221.9,223.8 C222.9,226.7 223.9,230.6 224.9,234 C225.8,237.4 227,241.3 227.8,244.2 C228.5,247.1 228.5,248.3 229.2,251.5 C230,254.7 231.2,259.5 232.2,263.2 C233.1,266.8 234.1,270 235.1,273.4 C236,276.8 237.1,280.5 238,283.6 C238.9,286.8 240.1,290.9 240.5,292.4"/>
<path d="M164.3,271.9 C165.1,271 168,267.2 169.4,266.1 C170.7,265 171.2,265.1 172.3,265.4 C173.4,265.6 174.7,266.2 175.9,267.6 C177.2,268.9 178.5,271.4 179.6,273.4 C180.7,275.3 181.5,277.3 182.5,279.2 C183.5,281.2 184.7,283.7 185.4,285.1 C186.2,286.4 186.2,287.3 186.9,287.3 C187.6,287.3 188.8,285.9 189.8,285.1 C190.8,284.2 191.6,282.8 192.7,282.2 C193.8,281.5 195.3,280.9 196.4,281.4 C197.5,281.9 198.4,283.2 199.3,285.1 C200.2,286.9 201.4,291.2 201.8,292.4"/>
<path d="M164.3,274.1 C165.4,272.5 168.8,266.5 170.8,264.6 C172.9,262.8 175,263.1 176.7,263.2 C178.4,263.3 179.6,263.8 181.1,265.4 C182.5,266.9 184.1,270.4 185.4,272.7 C186.8,275 188,277.5 189.1,279.2 C190.2,280.9 190.9,282.2 192,282.9 C193.1,283.6 194.6,283 195.7,283.6 C196.8,284.2 197.7,285.1 198.6,286.5 C199.5,288 200.5,291.4 200.9,292.4"/>
</g>
<path d="M264.2,293.1 C264.9,290.8 266.8,284 268.1,279.2 C269.5,274.5 271.1,269.3 272.5,264.6 C274,260 275.4,255.4 276.9,251.5 C278.4,247.6 279.8,244.1 281.3,241.3 C282.7,238.5 284.2,236.2 285.7,234.7 C287.1,233.2 288.5,232.6 290,232.2 C291.6,231.9 293.4,232.2 295.1,232.5 C296.8,232.8 298.6,233.6 300.3,234 C301.9,234.3 303.4,234.8 305.1,234.7 C306.8,234.6 308.6,234 310.5,233.2 C312.3,232.5 314.4,231.2 316.3,230.3 C318.3,229.4 320,228.6 322.2,227.8 C324.3,227.1 327.3,226.4 329.5,225.9 C331.6,225.5 333.3,225.2 335.3,225.2 C337.2,225.2 338.9,225.5 341.1,225.9 C343.3,226.4 346,227.2 348.4,227.8 C350.9,228.5 354.5,229.5 355.7,229.9"/>
<path d="M282.3,293.1 C283.3,291.3 286.6,285.4 288.6,282.2 C290.6,278.9 292.5,276.1 294.4,273.4 C296.4,270.7 298.4,267.8 300.3,266.1 C302.1,264.4 303.8,263.3 305.4,263.2 C306.9,263.1 308.2,263.9 309.7,265.4 C311.3,266.8 313,269.4 314.9,271.9 C316.7,274.5 318.7,278 320.7,280.7 C322.6,283.4 324.8,286.3 326.5,288 C328.2,289.7 329.5,290.4 330.9,290.9 C332.4,291.4 333.6,291.4 335.3,291.2 C337,291 339.2,290.5 341.1,289.5 C343.1,288.4 345.3,286.2 347,285.1 C348.7,284 349.9,283.4 351.4,282.9 C352.8,282.4 355,282.3 355.7,282.2"/>
<clipPath id="va24"><rect x="0" y="219" width="700" height="501"/></clipPath>
<g clip-path="url(#va24)">
<path d="M396.9,234 396.9,292.4"/>
<path d="M396.9,234 C398.1,233.7 401.8,233.2 404.2,232.5 C406.6,231.8 409.1,230.7 411.5,229.6 C413.9,228.5 416.6,227.4 418.8,225.9 C421,224.5 422.9,222.8 424.6,220.8 C426.4,218.9 428.5,215.4 429.3,214.3"/>
<path d="M396.9,234.7 C398.1,234.2 401.5,232.8 404.2,231.8 C406.9,230.8 410,229.7 413,228.9 C415.9,228 419,227.2 421.7,226.7 C424.4,226.1 426.9,225.8 429,225.5 C431.2,225.3 433.6,225.3 434.6,225.2"/>
<path d="M434.6,225.2 434.6,282.9"/>
<path d="M396.9,262.9 C398.1,262.1 401.8,259.7 404.2,258.1 C406.6,256.5 409.1,254.7 411.5,253.2 C413.9,251.8 416.4,250.6 418.8,249.3 C421.2,248 423.5,246.9 426.1,245.7 C428.7,244.4 433.2,242.6 434.6,242"/>
<path d="M396.9,262.9 C398.1,263.2 401.8,264.5 404.2,264.6 C406.6,264.8 409.1,264.8 411.5,263.9 C413.9,263.1 416.4,261.6 418.8,259.5 C421.2,257.5 423.5,254.3 426.1,251.5 C428.7,248.7 433.2,244.2 434.6,242.7"/>
<path d="M411.9,293.1 C412.6,291.3 414.5,285.9 415.9,282.2 C417.3,278.4 418.8,274.4 420.3,270.5 C421.7,266.6 423.2,262.2 424.6,258.8 C426.1,255.4 427.4,252.7 429,250 C430.7,247.4 433.6,244 434.6,242.7"/>
<path d="M434.6,248.6 C435.3,249.3 437.5,250.8 439.2,253 C441,255.1 443.1,258.6 445.1,261.7 C447,264.9 449,268.8 450.9,271.9 C452.9,275.1 454.8,278.3 456.8,280.7 C458.7,283.1 460.6,285 462.6,286.5 C464.5,288.1 466.2,289.3 468.4,290.2 C470.6,291 474.5,291.4 475.7,291.6"/>
<path d="M445.8,214.3 C446.9,214.9 450.1,216.7 452.4,217.9 C454.7,219.1 457.2,220.5 459.7,221.6 C462.1,222.7 464.7,223.8 467,224.5 C469.2,225.1 472.1,225.3 473.1,225.5"/>
<path d="M473.1,225.5 C471.8,225.8 467.5,226.5 465.5,227.4 C463.5,228.3 462.3,229 461.1,231.1 C459.9,233.1 459.4,236.2 458.2,239.8 C457,243.5 455.3,248.6 453.8,253 C452.4,257.3 450.8,262 449.5,266.1 C448.1,270.2 447.1,273.3 445.8,277.8 C444.5,282.3 442.5,290.5 441.9,293.1"/>
<path d="M434.6,282.9 C435.3,283.1 437.7,283.5 439.2,284.3 C440.7,285.2 442.1,286.5 443.6,288 C445.1,289.5 447.6,292.3 448.4,293.1"/>
<path d="M417.8,293.1 C418.2,292.7 419.3,290.6 420.3,290.6 C421.2,290.6 422.9,292.7 423.5,293.1"/>
</g>
<path d="M339.4,225.6 C340.7,225.9 344.4,226.8 346.8,227.4 C349.1,228 351.5,228.6 353.6,229.1 C355.6,229.7 357.5,230 359.2,230.8 C360.9,231.7 362.2,232.5 363.7,234.2 C365.2,235.9 366.7,238.2 368.2,241 C369.8,243.8 371.3,247.4 372.8,251.2 C374.3,254.9 375.9,259.3 377.3,263.6 C378.7,267.9 379.9,272.3 381.2,277.1 C382.6,282 384.7,290.3 385.4,293"/>
<path d="M339.4,290.4 C340.3,289.9 342.7,288.5 344.5,287.3 C346.3,286.1 348.5,284.2 350.2,283.4 C351.9,282.5 353.2,282.1 354.7,282.2 C356.2,282.3 357.9,283.1 359.2,283.9 C360.5,284.8 361.3,285.8 362.6,287.3 C363.9,288.8 366.1,292 366.8,293"/>
<clipPath id="va26"><rect x="0" y="219" width="700" height="501"/></clipPath>
<g clip-path="url(#va26)">
<path d="M83.1,292.8 C83.5,292.1 84.7,289.9 85.3,288.4 C86,287 86.7,285.5 87.1,284.1 C87.4,282.6 87,280.5 87.5,279.7 C88,278.9 89.2,279.2 90.1,279.2 C91.1,279.3 92.2,280.6 93.2,280.1 C94.2,279.6 95,277.8 96.3,276.2 C97.5,274.5 99.2,272.2 100.7,270 C102.1,267.8 103.6,265.2 105,263 C106.5,260.8 108,258.8 109.4,256.9 C110.9,255 112.3,253.4 113.8,251.6 C115.3,249.9 116.9,247.7 118.2,246.4 C119.5,245.1 120.7,244.3 121.7,243.8 C122.7,243.2 123.6,243.4 124,243.3"/>
<path d="M83.1,292.8 C83.9,291.9 86.2,289 87.5,287.6 C88.8,286.1 90.1,284.9 91,284.1 C92,283.2 92.5,282.5 93.2,282.7 C93.9,283 94.6,284.3 95.4,285.4 C96.2,286.5 97.3,288.1 98,289.3 C98.8,290.5 99.6,292.2 100,292.8"/>
<path d="M98.9,292.8 C99.5,291.5 101.2,287.7 102.4,284.9 C103.6,282.2 104.7,279.1 105.9,276.2 C107.1,273.2 108.2,270.2 109.4,267.4 C110.6,264.6 111.8,262 112.9,259.5 C114.1,257 115.3,254.7 116.4,252.5 C117.6,250.3 118.8,247.8 119.9,246.4 C121.1,244.9 122.8,244.2 123.4,243.8"/>
</g>
</g>
<g clip-path="url(#cda)" fill="none" stroke-linejoin="round">
<path d="M501.1,13.4 501.5,21.3 502.9,30.4 502.7,39.4 501.5,48.5 501.1,59.8 500.4,68.8 500.2,77.9 500.6,148 500.6,171.4 500.8,199.4 501.5,218.1 500.8,241.4 501.5,264.8 500.8,292.8" stroke="#33e033" stroke-width="1.1"/>
<path d="M501.5,14.1 508.3,15.7 524.2,17.9 542.3,20.2 564.9,23.1 583,25.4 596.6,27.6 607.9,29.9 614.7,31 616.9,32.6 619.2,31.9 621.5,33.3 616.9,34.9 622.6,36 627.1,39 619.2,40.5 622.6,41.7 612.4,43.5 603.4,45.1 596.6,46.7 592,48.5 601.1,49.6 606.7,51.4 601.1,53 587.5,54.1 573.9,55.3 567.1,57.1 566,58.6 569.4,60.9 573.9,62.5 577.3,64.3 575.1,67.7 578.5,69.3 577.3,72.2 581.9,74.5 577.3,76.1 571.7,77.3 567.1,79.5 562.6,81.8 559.2,84.1 561.5,87.4 564.9,90.8 562.6,93.1 555.8,95.4 549,97.6 542.3,102.2 538.9,105.5 536.6,108.9 530.9,114.6 527.5,119.1 525.3,124.8 526.4,129.3 524.2,133.8 523,140.6 520.8,147.4 519.6,153.1 520.8,158.7 521.9,164.4 518.4,165.5 516,171.4 513.7,176 511.4,185.4 510.2,190 511.4,194.7 514.9,199.3 519.5,202.8 523,205.2 518.4,208.7 514.9,212.2 516,215.7 530,218 553.4,219.2 530,220.4 528.9,221.5 553.4,222.7 589.6,224.6 565.1,226.2 541.7,228.5 520.7,230.9 512.5,234.4 510.2,237.9 513.7,241.4 518.4,246.1 520.7,248.4 517.2,251.9 520.7,255.4 526.5,260.1 534.7,264.7 544.1,269.4 553.4,273.6 562.7,278.3 558.1,279.9 548.7,281.6 554.6,283.4 559.2,285.8 551.1,287.6 555.7,289.3 553.4,293.9" stroke="#ff2020" stroke-width="1.1"/>
<path d="M507.2,13.4 519.6,15.7 542.3,18.4 564.9,20.9 587.5,23.1 610.1,24.9 632.8,26.5 647.5,28.1 659.9,29" stroke="#111" stroke-width="1.1"/>
<path d="M659.9,54.4 647.5,54.8 632.8,56.4 619.2,57.5 612.4,59.3 611.3,60.9 619.2,62 630.5,62.7 639.6,63.9 645.2,64.8 632.8,65.4 631.6,67.7 635,69.3 630.5,71.1 628.2,72.2 635,73.4 642.9,74.5 632.8,75.2 626,76.8 623.7,79.5 614.7,80.7 607.9,82.9 604.5,85.2 607.9,87.4 612.4,90.8 605.6,93.1 598.8,94.9 589.8,96.5 580.7,98.8 573.9,102.2 569.4,105.5 569.4,108.9 564.9,111.2 560.4,114.6 557,118 555.8,120.3 553.6,122.5 552.4,127 552.4,131.6 551.3,137.2 552.4,141.8 557,147 551.3,147.9 543.4,149.2 544.5,153.1 543.4,156.5 545.6,161 546.8,164.4 545.2,166.7 541.7,171.4 537,178.4 534.2,185.4 533.5,191.2 535.9,195.9 541.7,197.5 565.1,198.2 583.8,200.6 590.8,204.1 607.1,205.2 593.1,207.6 572.1,213.4 588.4,215.7 611.8,216.9 649.2,217.6 663.2,217.8" stroke="#111" stroke-width="1.1"/>
<path d="M663.2,230.7 649.2,230.9 611.8,232.1 588.4,234.4 567.4,237.9 576.8,239.1 593.1,242.6 616.5,247.3 597.8,250.8 600.1,254.3 616.5,257.8 635.1,260.1 649.2,261.8 663.2,262.5" stroke="#111" stroke-width="1.1"/>
<path d="M499.3,13.4 500.4,16.8 501.5,23.6 503.3,28.1 504.2,30.4 504.9,37.2 503.8,48.5 502.7,58.6 503.3,64.3 503.8,71.1 503.3,81.8 502.7,88.6 502,97.6 502,108.9 502,120.3 502.7,131.6 502.7,142.9 503.3,146.3 502.7,149.7 502,153.1 502.7,165.1 502,166 502.2,174.1 502.6,190.1 505,197.1 511,200.1 513.1,203.1 509,206.2 505,210.2 506,214.2 510,217.2 515.1,219.2 518.1,220.2 521.1,222.2 525.1,224.2 519.1,227.2 515.1,229.2 509,232.2 505,236.2 503,242.3 502,250.3 502,258.3 503,264.3 506,270.3 508,273.3 506,276.4 504,280.4 506,284.4 509,288.4 508,293.4" stroke="#1010f0" stroke-width="2.0"/>
</g>
<line x1="71.3" y1="153.1" x2="473.4" y2="153.1" stroke="#ef7519" stroke-width="1.6" stroke-dasharray="7.8,6.78" stroke-dashoffset="1.0"/>
<line x1="499.2" y1="154" x2="649.8" y2="154" stroke="#f28a38" stroke-width="1.3" stroke-dasharray="5.8,3.9"/>
<path d="M71.3,13.4 H473.4 V292" fill="none" stroke="#666" stroke-width="1.1"/>
<path d="M71.3,13.4 V292 H473.4" fill="none" stroke="#222" stroke-width="1.5"/>
<path d="M499.2,13.4 H649.8 V292" fill="none" stroke="#666" stroke-width="1.1"/>
<path d="M499.2,13.4 V292 H649.8" fill="none" stroke="#222" stroke-width="1.5"/>
<line x1="71.3" y1="292" x2="79.3" y2="292" stroke="#222" stroke-width="1.3"/>
<line x1="499.2" y1="292" x2="503.5" y2="292" stroke="#222" stroke-width="1.2"/>
<line x1="71.3" y1="268.8" x2="75.3" y2="268.8" stroke="#222" stroke-width="1.3"/>
<line x1="499.2" y1="268.8" x2="501.2" y2="268.8" stroke="#222" stroke-width="1.2"/>
<line x1="71.3" y1="245.6" x2="79.3" y2="245.6" stroke="#222" stroke-width="1.3"/>
<line x1="499.2" y1="245.6" x2="503.5" y2="245.6" stroke="#222" stroke-width="1.2"/>
<line x1="71.3" y1="222.4" x2="75.3" y2="222.4" stroke="#222" stroke-width="1.3"/>
<line x1="499.2" y1="222.4" x2="501.2" y2="222.4" stroke="#222" stroke-width="1.2"/>
<line x1="71.3" y1="199.1" x2="79.3" y2="199.1" stroke="#222" stroke-width="1.3"/>
<line x1="499.2" y1="199.1" x2="503.5" y2="199.1" stroke="#222" stroke-width="1.2"/>
<line x1="71.3" y1="175.9" x2="75.3" y2="175.9" stroke="#222" stroke-width="1.3"/>
<line x1="499.2" y1="175.9" x2="501.2" y2="175.9" stroke="#222" stroke-width="1.2"/>
<line x1="71.3" y1="152.7" x2="79.3" y2="152.7" stroke="#222" stroke-width="1.3"/>
<line x1="499.2" y1="152.7" x2="503.5" y2="152.7" stroke="#222" stroke-width="1.2"/>
<line x1="71.3" y1="129.5" x2="75.3" y2="129.5" stroke="#222" stroke-width="1.3"/>
<line x1="499.2" y1="129.5" x2="501.2" y2="129.5" stroke="#222" stroke-width="1.2"/>
<line x1="71.3" y1="106.3" x2="79.3" y2="106.3" stroke="#222" stroke-width="1.3"/>
<line x1="499.2" y1="106.3" x2="503.5" y2="106.3" stroke="#222" stroke-width="1.2"/>
<line x1="71.3" y1="83.1" x2="75.3" y2="83.1" stroke="#222" stroke-width="1.3"/>
<line x1="499.2" y1="83.1" x2="501.2" y2="83.1" stroke="#222" stroke-width="1.2"/>
<line x1="71.3" y1="59.8" x2="79.3" y2="59.8" stroke="#222" stroke-width="1.3"/>
<line x1="499.2" y1="59.8" x2="503.5" y2="59.8" stroke="#222" stroke-width="1.2"/>
<line x1="71.3" y1="36.6" x2="75.3" y2="36.6" stroke="#222" stroke-width="1.3"/>
<line x1="499.2" y1="36.6" x2="501.2" y2="36.6" stroke="#222" stroke-width="1.2"/>
<line x1="71.3" y1="13.4" x2="79.3" y2="13.4" stroke="#222" stroke-width="1.3"/>
<line x1="499.2" y1="13.4" x2="503.5" y2="13.4" stroke="#222" stroke-width="1.2"/>
<line x1="524.3" y1="292" x2="524.3" y2="289.5" stroke="#222" stroke-width="1.2"/>
<line x1="549.4" y1="292" x2="549.4" y2="287" stroke="#222" stroke-width="1.2"/>
<line x1="574.5" y1="292" x2="574.5" y2="289.5" stroke="#222" stroke-width="1.2"/>
<line x1="599.6" y1="292" x2="599.6" y2="287" stroke="#222" stroke-width="1.2"/>
<line x1="624.7" y1="292" x2="624.7" y2="289.5" stroke="#222" stroke-width="1.2"/>
<text x="61.2" y="20" font-size="20" text-anchor="end">6</text>
<text x="61.2" y="66.4" font-size="20" text-anchor="end">4</text>
<text x="61.2" y="112.9" font-size="20" text-anchor="end">2</text>
<text x="61.2" y="159.3" font-size="20" text-anchor="end">0</text>
<text x="61.2" y="205.7" font-size="20" text-anchor="end">-2</text>
<text x="61.2" y="252.2" font-size="20" text-anchor="end">-4</text>
<text x="61.2" y="298.6" font-size="20" text-anchor="end">-6</text>
<text x="499.2" y="314.7" font-size="18.8" text-anchor="middle">0.0</text>
<text x="548.2" y="314.7" font-size="18.8" text-anchor="middle">0.1</text>
<text x="599" y="314.7" font-size="18.8" text-anchor="middle">0.2</text>
<text x="649.5" y="314.7" font-size="18.8" text-anchor="middle">0.3</text>
<text class="g" x="70" y="319" font-size="22" text-anchor="middle">&#915;</text>
<text x="124.3" y="319" font-size="22" text-anchor="middle">M</text>
<text x="153.4" y="319" font-size="22" text-anchor="middle">K</text>
<text class="g" x="218.5" y="319" font-size="22" text-anchor="middle">&#915;</text>
<text x="251.6" y="319" font-size="22" text-anchor="middle">A</text>
<text x="306" y="319" font-size="22" text-anchor="middle">L</text>
<text x="331.7" y="319" font-size="22" text-anchor="middle">H</text>
<text x="397" y="319" font-size="22" text-anchor="middle">A|L</text>
<text x="437.9" y="319" font-size="22" text-anchor="middle">M|K</text>
<text x="476.2" y="319" font-size="22" text-anchor="middle">H</text>
<text x="573.3" y="340.3" font-size="22.6" text-anchor="middle">DOS (states/eV/atom)</text>
<text x="0" y="0" font-size="23.3" text-anchor="middle" transform="translate(27.9,152.9) rotate(-90)">Energy (eV)</text>
<clipPath id="cbb"><rect x="71.3" y="372.4" width="402.09999999999997" height="278.6"/></clipPath>
<clipPath id="cdb"><rect x="499.2" y="372.4" width="150.59999999999997" height="278.6"/></clipPath>
<line x1="134.4" y1="372.4" x2="134.4" y2="651" stroke="#8c8c8c" stroke-width="1.05" stroke-dasharray="2.5,2"/>
<line x1="167.3" y1="372.4" x2="167.3" y2="651" stroke="#8c8c8c" stroke-width="1.05" stroke-dasharray="2.5,2"/>
<line x1="182.8" y1="372.4" x2="182.8" y2="651" stroke="#8c8c8c" stroke-width="1.05" stroke-dasharray="2.5,2"/>
<line x1="266" y1="372.4" x2="266" y2="651" stroke="#8c8c8c" stroke-width="1.05" stroke-dasharray="2.5,2"/>
<line x1="343.3" y1="372.4" x2="343.3" y2="651" stroke="#8c8c8c" stroke-width="1.05" stroke-dasharray="2.5,2"/>
<line x1="369.7" y1="372.4" x2="369.7" y2="651" stroke="#8c8c8c" stroke-width="1.05" stroke-dasharray="2.5,2"/>
<line x1="386.1" y1="372.4" x2="386.1" y2="651" stroke="#8c8c8c" stroke-width="1.05" stroke-dasharray="2.5,2"/>
<line x1="418.8" y1="372.4" x2="418.8" y2="651" stroke="#8c8c8c" stroke-width="1.05" stroke-dasharray="2.5,2"/>
<line x1="446" y1="372.4" x2="446" y2="651" stroke="#8c8c8c" stroke-width="1.05" stroke-dasharray="2.5,2"/>
<g clip-path="url(#cbb)" fill="none" stroke="#2222c6" stroke-width="1.5" stroke-linejoin="round" stroke-linecap="round">
<clipPath id="vb0"><rect x="0" y="0" width="700" height="416"/></clipPath>
<g clip-path="url(#vb0)">
<path d="M77.3,372.4 C77.6,373 78.5,374.8 79.1,376 C79.7,377.2 80.3,378.6 80.9,379.7 C81.6,380.8 82.4,381.8 83.1,382.6 C83.9,383.4 84.5,383.7 85.3,384.2 C86.1,384.7 87.1,385.3 87.9,385.4 C88.7,385.4 89.3,384.9 90.1,384.4 C90.8,384 91.4,383 92.3,382.6 C93.1,382.1 94.2,382 95.2,381.7 C96.2,381.4 97.3,381.2 98.1,380.8 C98.9,380.3 99.4,379.7 99.9,378.9 C100.5,378.2 100.9,377.2 101.4,376.4 C101.9,375.6 102.2,374.8 102.8,374.2 C103.5,373.6 104.2,373.1 105,372.8 C105.9,372.5 107.5,372.5 108,372.4"/>
<path d="M77.9,372.4 C78.2,373 78.9,374.9 79.5,376 C80.1,377.1 80.6,378.3 81.3,378.9 C82,379.6 83.1,380.1 83.9,379.8 C84.7,379.6 85.3,378.4 86.1,377.5 C86.8,376.6 87.6,374.7 88.2,374.4 C88.9,374.2 89.5,375.4 90.1,376 C90.7,376.7 91.2,377.6 91.9,378.2 C92.6,378.8 93.3,379.6 94.1,379.7 C94.9,379.7 95.8,379.1 96.6,378.6 C97.5,378 98.3,377.1 99.2,376.4 C100.1,375.7 101,375 102.1,374.4 C103.2,373.9 104.3,373.4 105.8,373.1 C107.2,372.8 109.3,372.6 110.9,372.5 C112.5,372.4 114.5,372.4 115.3,372.4"/>
<path d="M95.2,372.4 C95.6,372.5 96.9,372.8 97.7,373.3 C98.5,373.7 99.2,374.1 99.9,374.9 C100.7,375.8 101.3,376.9 102.1,378.2 C102.9,379.5 103.8,381.1 104.7,382.6 C105.5,384.1 106.3,385.5 107.2,387.1 C108.1,388.7 109.2,390.5 110.1,392.2 C111.1,393.9 112.1,395.6 113.1,397.3 C114,399 115,400.7 116,402.5 C117,404.2 118.2,406.3 118.9,407.6 C119.6,408.8 120.1,409.6 120.4,410"/>
<path d="M101.4,378.2 C101.8,378.9 103.1,381.4 103.9,382.2 C104.8,383.1 105.8,383.4 106.5,383.5 C107.2,383.6 107.8,383.6 108.3,383 C108.9,382.3 109.2,381 109.8,379.7 C110.3,378.4 110.9,376.3 111.6,375.3 C112.3,374.3 112.8,373.9 113.8,373.5 C114.8,373.1 116.4,373 117.4,373 C118.5,372.9 119.9,373.1 120.4,373.1"/>
<path d="M71.6,396.1 C72.1,395.8 73.4,395.2 74.4,394.3 C75.3,393.4 76.4,391.7 77.3,390.6 C78.2,389.6 78.8,388.7 79.5,388.1 C80.2,387.4 80.7,386.7 81.3,386.6 C81.9,386.6 82.5,387.2 83.1,387.7 C83.7,388.3 84.4,389 85,389.9 C85.6,390.8 86.2,392.1 86.8,393.2 C87.4,394.3 88,395.4 88.6,396.5 C89.2,397.5 89.8,398.4 90.4,399.4 C91,400.4 91.7,401.3 92.3,402.3 C92.9,403.3 93.5,404.3 94.1,405.2 C94.7,406.2 95.3,407.2 95.9,408.1 C96.5,409.1 97.1,410 97.7,411.1 C98.4,412.2 99.3,413.5 99.9,414.7 C100.6,415.9 101.3,417.8 101.5,418.4"/>
<path d="M71.6,396.1 C72.2,396 73.9,395.9 75.1,395.6 C76.3,395.3 77.5,394.8 78.8,394.3 C80,393.8 81.4,393 82.4,392.5 C83.4,391.9 83.9,391.1 84.6,391.2 C85.3,391.3 85.8,392.4 86.4,393.2 C87,394 87.6,395.1 88.2,396.1 C88.9,397.1 89.5,398 90.1,399 C90.7,400 91.3,401 91.9,401.9 C92.5,402.9 93.1,403.9 93.7,404.9 C94.3,405.8 94.9,406.8 95.5,407.8 C96.2,408.8 96.8,409.7 97.4,410.7 C98,411.7 98.6,412.7 99.2,414 C99.7,415.3 100.4,417.6 100.7,418.4"/>
<path d="M83.9,389.9 C84.2,390.3 85.1,391.2 85.7,392.1 C86.3,392.9 86.9,394 87.5,395 C88.1,396 88.7,397 89.3,397.9 C90,398.9 90.6,399.9 91.2,400.8 C91.8,401.8 92.7,403.3 93,403.8"/>
<path d="M91.5,399 C92,398.5 93.3,397 94.1,395.7 C94.9,394.5 95.6,392.6 96.3,391.4 C96.9,390.1 97.5,388.4 98.1,388.4 C98.7,388.4 99.3,390.5 99.9,391.4 C100.6,392.2 101.4,393.2 102.1,393.5 C102.8,393.9 103.6,393.9 104.3,393.5 C105,393.2 105.9,392.1 106.5,391.4 C107.1,390.6 107.7,389.5 108,389.2"/>
<path d="M88.2,418.4 C88.5,417.5 89.2,414.9 89.7,413.3 C90.2,411.6 90.6,409.2 91.2,408.5 C91.8,407.8 92.6,408.8 93.4,409.2 C94.1,409.7 95.1,410.3 95.9,411.1 C96.7,411.8 97.5,412.4 98.1,413.6 C98.7,414.8 99.3,417.6 99.6,418.4"/>
<path d="M97.7,411.8 C98.2,410.8 99.8,407.7 100.7,406 C101.5,404.3 102.2,402.7 102.8,401.6 C103.5,400.5 104.1,399.3 104.7,399.4 C105.3,399.5 105.8,401.1 106.5,402.3 C107.2,403.5 108,405.3 108.7,406.7 C109.4,408 110.1,409.1 110.9,410.3 C111.6,411.6 112.3,413 113.1,414.4 C113.8,415.7 114.9,417.7 115.3,418.4"/>
</g>
<clipPath id="vb1"><rect x="0" y="0" width="700" height="416"/></clipPath>
<g clip-path="url(#vb1)">
<path d="M119.6,372.7 C120.4,372.8 122.9,373.3 124.4,373.5 C125.9,373.7 127.1,373.8 128.8,374 C130.5,374.1 133,374 134.6,374.4 C136.2,374.9 136.8,375.9 138.2,376.8 C139.7,377.6 141.5,378.6 143.4,379.7 C145.2,380.7 147.3,381.9 149.2,383 C151.1,384.1 153.5,385.6 155,386.2 C156.6,386.9 157.2,387.1 158.7,387.1 C160.1,387.2 162.3,386.8 163.8,386.6 C165.3,386.4 166.4,386.3 167.4,385.9 C168.5,385.5 169.9,384.5 170.4,384.2"/>
<path d="M120.2,408.9 C120.4,408.4 120.9,407.5 121.5,406 C122,404.4 122.9,401.6 123.6,399.4 C124.4,397.2 125.1,394.9 125.8,392.8 C126.6,390.7 127.2,388.9 128,387 C128.9,385 129.9,383.2 130.9,381.1 C132,379.1 133.6,376.1 134.6,374.6 C135.6,373.1 136.5,372.6 136.9,372.2"/>
<path d="M115.6,404.5 C116.1,405.2 117.8,407.3 118.5,408.5 C119.3,409.7 119.5,410.9 120,411.8 C120.5,412.7 120.9,412.9 121.5,414 C122,415.1 122.8,417.6 123.1,418.4"/>
<path d="M145.2,418.4 C145.9,417.9 147.8,416.2 149.2,415.4 C150.6,414.7 152.4,414 153.6,414 C154.8,414 155.3,414.7 156.5,415.4 C157.7,416.2 159.8,417.9 160.5,418.4"/>
<path d="M152.7,418.4 C153,417.6 153.7,415.6 154.3,414 C154.9,412.4 155.6,410.7 156.5,408.9 C157.3,407.1 158.3,404.7 159.4,403 C160.5,401.3 162,399.6 163.1,398.7 C164.2,397.7 165.1,397.3 166,397.2 C166.8,397.1 167.4,397.4 168.2,397.9 C168.9,398.5 170,400.1 170.4,400.5"/>
</g>
<clipPath id="vb2"><rect x="0" y="0" width="700" height="416"/></clipPath>
<g clip-path="url(#vb2)">
<path d="M164.6,386.6 C165.1,386.6 166.3,386.4 167.6,386.2 C168.8,386.1 170.5,385.7 172.3,385.5 C174.1,385.4 176.4,385.4 178.1,385.4 C179.9,385.4 181.4,385.7 182.9,385.5 C184.3,385.3 185.5,384.4 186.9,384.1 C188.3,383.7 189.8,383.5 191.3,383.5 C192.7,383.5 194,383.6 195.7,383.9 C197.4,384.2 199.5,384.8 201.5,385.2 C203.4,385.5 205.6,385.8 207.3,385.9 C209,386 210.4,385.9 211.7,385.9 C213.1,385.8 214.8,385.6 215.4,385.5"/>
<path d="M167.6,386.2 C168.1,385.9 169.7,385 170.8,384.1 C172,383.1 173.4,381.7 174.5,380.4 C175.6,379.1 176.6,377.4 177.4,376 C178.2,374.7 179.1,372.9 179.4,372.2"/>
<path d="M196.2,372.2 C196.8,373 198.2,375.3 199.3,376.8 C200.4,378.2 201.6,379.7 203,381.1 C204.3,382.5 205.9,383.9 207.3,385.2 C208.8,386.4 210.4,387.5 211.7,388.4 C213.1,389.4 214.8,390.4 215.4,390.8"/>
<path d="M164.6,397.6 C165.1,397.5 166.2,396.8 167.2,397.2 C168.2,397.6 169.5,399.3 170.8,400.1 C172.2,401 173.8,401.6 175.2,402.3 C176.7,403 178.4,403.6 179.6,404.1 C180.8,404.6 181.3,405.5 182.5,405.2 C183.7,404.9 185.6,402.9 186.9,402.3 C188.2,401.8 189.1,401.9 190.5,401.9 C192,401.9 194.1,402.3 195.7,402.3 C197.2,402.3 198.7,402.3 200,401.9 C201.4,401.6 202.3,400.9 203.7,400.1 C205,399.3 206.7,398 208.1,397.2 C209.4,396.3 210.5,395.7 211.7,395 C212.9,394.3 214.8,393.4 215.4,393"/>
<path d="M167.2,397.2 C167.8,397.9 169.6,400 170.8,401.6 C172.1,403.2 173.3,405.1 174.5,406.7 C175.7,408.3 176.8,409.9 178.1,411.1 C179.5,412.2 181.3,414 182.5,413.6 C183.7,413.3 184.3,410.5 185.4,408.9 C186.5,407.3 188,405.2 189.1,404.1 C190.2,403.1 190.9,402.9 192,402.7 C193.1,402.5 194.4,402.7 195.7,403 C196.9,403.3 198.2,403.8 199.3,404.5 C200.4,405.2 201.3,406.2 202.2,407.4 C203.2,408.6 204.1,410 205.1,411.8 C206.2,413.6 207.8,417.3 208.3,418.4"/>
<path d="M168.5,418.4 C169,417.5 170.5,414.8 171.6,413.3 C172.7,411.7 173.9,410.1 175.2,408.9 C176.6,407.7 178.3,406.6 179.6,406 C180.9,405.3 182.3,405.3 182.9,405.2"/>
<path d="M211.5,418.4 L215.4,414.5"/>
</g>
<clipPath id="vb3"><rect x="0" y="0" width="700" height="416"/></clipPath>
<g clip-path="url(#vb3)">
<path d="M209.6,385.5 C210.3,385.5 212.4,385.4 213.6,385.2 C214.9,384.9 216,384.7 217.3,384.1 C218.6,383.5 220.3,381.7 221.3,381.5 C222.3,381.3 222.8,382.2 223.5,383 C224.2,383.7 224.9,384.9 225.7,385.9 C226.5,386.9 227.5,387.9 228.2,388.8 C229,389.7 229.7,391.3 230.4,391.4 C231.2,391.4 231.8,390 232.6,389.2 C233.5,388.4 234.7,387.2 235.5,386.6 C236.4,386.1 237,385.9 237.7,385.9 C238.5,385.8 239.3,385.7 239.9,386.2 C240.5,386.8 240.8,388 241.4,389.2 C242,390.3 242.7,392.7 243.6,393.2 C244.4,393.7 245.5,392.5 246.5,392.1 C247.5,391.7 248.5,391.4 249.4,390.6 C250.3,389.9 251.1,387.8 252,387.7 C252.8,387.6 253.6,389.2 254.5,389.9 C255.4,390.6 256.5,391.4 257.4,392.1 C258.4,392.8 259.9,393.7 260.4,394.1"/>
<path d="M209.6,387.6 C210.2,388 211.9,389.2 212.9,389.9 C214,390.6 214.9,391.7 215.8,391.7 C216.8,391.7 217.7,390.6 218.8,389.9 C219.9,389.2 221.2,388.4 222.4,387.7 C223.6,387 224.8,386.4 226.1,385.5 C227.3,384.7 228.5,383.5 229.7,382.6 C230.9,381.7 232.1,380.9 233.4,380 C234.6,379.2 235.8,378.3 237,377.5 C238.2,376.6 239.6,375.6 240.7,374.9 C241.8,374.3 242.6,373.7 243.6,373.5 C244.5,373.3 245.6,373.4 246.5,373.8 C247.3,374.3 248,375.3 248.7,376 C249.4,376.8 250,377.7 250.5,378.2 C251.1,378.7 251.4,379.2 252,378.9 C252.5,378.7 253.1,377.6 253.8,376.8 C254.5,375.9 255.4,374.6 256,373.8 C256.6,373.1 257.3,372.5 257.6,372.2"/>
<path d="M209.6,397.2 C210.3,397 212.4,396.1 213.6,395.7 C214.9,395.4 216,394.9 216.9,395.2 C217.8,395.4 218.5,396.1 219.1,397.2 C219.8,398.3 220.3,400 220.9,401.6 C221.6,403.2 222.3,404.9 223.1,406.7 C223.9,408.5 224.8,411.7 225.7,412.5 C226.5,413.4 227.2,412.2 228.2,411.8 C229.3,411.4 230.8,410.7 231.9,410.3 C233,410 234,409.2 234.8,409.6 C235.6,410 236,411.4 236.6,412.5 C237.3,413.6 238,415.2 238.5,416.2 C239,417.1 239.4,418 239.6,418.4"/>
<path d="M211.8,418.4 C212.5,417.3 214.6,413.9 215.8,411.8 C217.1,409.7 218.5,407.4 219.5,406 C220.5,404.5 220.9,404 221.7,403 C222.4,402.1 223.1,401 223.9,400.1 C224.6,399.2 225.2,398 226.1,397.6 C226.9,397.1 228.1,396.9 229,397.2 C229.8,397.5 230.4,398.4 231.2,399.4 C231.9,400.4 232.7,402.1 233.4,403 C234,404 234.2,405.3 234.8,405.2 C235.4,405.1 236.3,403.2 237,402.3 C237.7,401.5 238.3,400.4 239.2,400.1 C240,399.9 241.3,400.7 242.1,400.8 C243,401 243.6,401.6 244.3,401.2 C245,400.8 245.8,399.6 246.5,398.7 C247.2,397.7 248.1,396.6 248.7,395.7 C249.2,394.9 249.6,393.9 249.8,393.5"/>
<path d="M239.1,418.4 C239.4,417.3 240.6,413.7 241.4,411.8 C242.1,409.8 242.8,408.4 243.6,406.7 C244.3,405 245,403.2 245.8,401.6 C246.5,400 247.3,398.5 248,397.2 C248.6,395.9 249.2,394.9 249.8,393.5 C250.4,392.2 251.1,390.1 251.6,389.2 C252.2,388.2 252.5,387.6 253.1,387.7 C253.7,387.8 254.4,389 255.3,389.9 C256.1,390.7 257.3,392.1 258.2,392.8 C259,393.6 260,394.2 260.4,394.4"/>
<path d="M244.3,406 C244.7,406.9 245.9,409.7 246.5,411.8 C247.1,413.9 247.7,417.3 248,418.4"/>
<path d="M249.8,393.5 C250.5,393.6 252.5,393.7 253.8,393.9 C255.1,394.1 256.4,394.4 257.4,394.6 C258.5,394.9 259.9,395.3 260.4,395.4"/>
<path d="M220.8,372.2 C221.1,372.7 221.7,374.2 222.4,374.9 C223.2,375.6 224.5,376.3 225.3,376.4 C226.2,376.5 226.8,375.8 227.5,375.3 C228.2,374.8 229,373.4 229.7,373.1 C230.4,372.9 231,373.5 231.9,373.8 C232.7,374.2 234,375.1 234.8,375.3 C235.7,375.5 236.4,375.8 237,375.3 C237.6,374.8 238.3,372.7 238.6,372.2"/>
<path d="M235.5,379.7 C235.9,380.2 236.9,381.6 237.7,382.6 C238.6,383.6 239.7,384.7 240.7,385.5 C241.6,386.3 242.6,387.2 243.6,387.3 C244.5,387.5 245.5,387 246.5,386.6 C247.5,386.2 248.6,385.6 249.4,384.8 C250.3,384 250.9,383 251.6,381.9 C252.3,380.8 253.1,379.3 253.8,378.2 C254.5,377.1 255.2,376.3 256,375.3 C256.7,374.3 257.9,372.7 258.3,372.2"/>
<path d="M250.9,382.6 C251.2,382.2 252.3,381.3 253.1,380.4 C253.8,379.6 254.6,378.5 255.3,377.5 C255.9,376.5 256.4,375.4 257.1,374.6 C257.7,373.7 258.7,372.6 259.1,372.2"/>
</g>
<clipPath id="vb4"><rect x="0" y="0" width="700" height="416"/></clipPath>
<g clip-path="url(#vb4)">
<path d="M254.6,380 C255,379.5 256.1,378.1 256.8,376.8 C257.5,375.5 258.5,373 258.8,372.2"/>
<path d="M254.6,389 C255.2,389.5 256.9,391 257.9,392.1 C259,393.1 259.6,394.6 260.8,395.4 C262.1,396.1 263.9,396.3 265.2,396.5 C266.6,396.6 267.7,396.6 268.9,396.1 C270.1,395.6 271.4,394.6 272.5,393.5 C273.6,392.5 274.6,390.9 275.4,389.9 C276.3,388.9 276.8,387.8 277.6,387.7 C278.5,387.6 279.7,388.6 280.5,389.2 C281.4,389.8 281.9,390 282.7,391.4 C283.6,392.7 284.7,395.4 285.7,397.2 C286.6,399 287.6,400.6 288.6,402.3 C289.5,404 290.5,406 291.5,407.4 C292.5,408.9 293.3,409.7 294.4,411.1 C295.5,412.4 297.2,414.2 298.1,415.4 C298.9,416.7 299.4,417.9 299.7,418.4"/>
<path d="M254.6,394.9 C255.4,395.1 257.6,395.8 259.4,396.1 C261.1,396.4 264.2,396.5 265.2,396.6"/>
<path d="M272,372.2 C272.3,372.9 273.3,374.7 274,376 C274.7,377.4 275.6,379.3 276.2,380.4 C276.8,381.5 276.8,382.4 277.6,382.6 C278.5,382.8 280.3,382.1 281.3,381.5 C282.3,380.9 282.7,379.8 283.5,378.9 C284.2,378.1 284.8,376.6 285.7,376.4 C286.5,376.2 287.6,376.9 288.6,377.5 C289.5,378.1 290.5,379.2 291.5,380 C292.5,380.9 293.4,381.7 294.4,382.6 C295.4,383.5 296.4,384.5 297.3,385.5 C298.3,386.5 299.3,387.5 300.3,388.4 C301.2,389.4 302.3,390.5 303.2,391.4 C304,392.2 305,393 305.4,393.3"/>
<path d="M299.7,372.2 C299.5,373 299.3,375.4 298.8,376.8 C298.3,378.1 297.3,379.4 296.6,380.4 C295.9,381.4 294.8,382.2 294.4,382.6"/>
<path d="M285.5,418.4 C285.9,417.3 287.1,414 287.8,411.8 C288.6,409.6 289.3,407.5 290,405.2 C290.8,402.9 291.6,400.1 292.2,397.9 C292.8,395.7 293.1,393.5 293.7,392.1 C294.3,390.6 295.1,390 295.9,389.2 C296.6,388.3 297.7,387.3 298.1,387"/>
<path d="M298.1,415.4 C298.6,414.4 300.1,410.8 301,408.9 C301.8,406.9 302.4,405.3 303.2,403.8 C303.9,402.3 305,400.5 305.4,399.9"/>
</g>
<clipPath id="vb5"><rect x="0" y="0" width="700" height="416"/></clipPath>
<g clip-path="url(#vb5)">
<path d="M299.6,388.1 C300.3,388.7 302.4,390.8 303.6,392.1 C304.9,393.4 306.1,394.6 307.3,395.7 C308.5,396.8 309.7,397.7 310.9,398.7 C312.2,399.6 313.3,400.3 314.6,401.2 C315.9,402.1 317.5,403.2 319,404.1 C320.4,405 321.7,405.8 323.4,406.7 C325.1,407.5 327.3,408.5 329.2,409.2 C331.1,410 333.3,410.7 335,411.1 C336.7,411.5 338.1,411.5 339.4,411.6 C340.8,411.7 341.8,411.5 343.1,411.6 C344.3,411.6 345.5,411.8 346.7,411.8 C347.9,411.8 349.8,411.8 350.4,411.8"/>
<path d="M299.6,412.5 C300.1,411.6 301.4,408.5 302.2,406.7 C303,404.9 303.6,402.9 304.4,401.6 C305.1,400.2 305.6,399.3 306.6,398.7 C307.5,398 309.6,398 310.2,397.9"/>
<path d="M306.6,394.3 C307.2,393.8 308.9,392.8 310.2,391.4 C311.6,389.9 313,386.9 314.6,385.5 C316.2,384.2 318.1,383.5 319.7,383.3 C321.3,383.1 322.7,383.8 324.1,384.4 C325.4,385 326.5,386.1 327.7,387 C329,387.9 330.2,388.9 331.4,389.9 C332.6,390.9 333.7,392 335,392.8 C336.4,393.7 338.1,394.5 339.4,395 C340.8,395.5 341.8,395.8 343.1,395.6 C344.3,395.3 345.5,394.4 346.7,393.5 C347.9,392.7 349.8,391 350.4,390.5"/>
<path d="M322.5,372.2 C323,373 324.4,375.2 325.5,376.8 C326.7,378.4 328,380.2 329.2,381.9 C330.4,383.6 331.6,385.4 332.8,387 C334.1,388.6 335.3,390.1 336.5,391.4 C337.7,392.6 339.1,393.6 340.1,394.3 C341.2,395 342.6,395.4 343.1,395.6"/>
<path d="M333.2,418.4 C333.8,417.9 335.3,416.4 336.5,415.4 C337.7,414.5 339.1,413.2 340.1,412.5 C341.2,411.9 342.1,411.3 343.1,411.4 C344,411.6 345,412.5 346,413.3 C347,414 348.2,415.4 348.9,416.2 C349.6,416.9 350.1,417.4 350.4,417.6"/>
<path d="M343.1,411.6 C343.7,411.9 345.5,412.6 346.7,413.3 C347.9,413.9 349.8,415.1 350.4,415.4"/>
</g>
<clipPath id="vb6"><rect x="0" y="0" width="700" height="416"/></clipPath>
<g clip-path="url(#vb6)">
<path d="M344.6,395.6 C345.3,395.3 347.4,394.5 348.6,393.5 C349.9,392.6 351.2,391.2 352.3,389.9 C353.4,388.6 354.4,387.2 355.2,385.5 C356.1,383.8 356.7,381.9 357.4,379.7 C358.1,377.5 359.2,373.5 359.6,372.2"/>
<path d="M344.6,395.6 C345.4,395.1 348,394 349.4,392.8 C350.8,391.6 351.8,390.1 353,388.4 C354.2,386.7 355.6,384.4 356.7,382.6 C357.8,380.8 358.6,378.8 359.6,377.5 C360.6,376.2 361.6,375.4 362.5,374.6 C363.4,373.7 364.5,372.6 364.9,372.2"/>
<path d="M347.2,393.5 C348,392.8 350.7,390.4 352.3,389.2 C353.9,388 355.3,387 356.7,386.2 C358,385.5 359,384.9 360.3,384.4 C361.7,383.9 363.5,383.4 364.7,383.3 C365.9,383.3 366.8,383.7 367.6,384.1 C368.5,384.4 368.7,385.1 369.8,385.4 C370.9,385.6 372.7,385.4 374.2,385.5 C375.7,385.6 377.1,385.8 378.6,385.9 C380,386 381.7,386.1 383,386.2 C384.2,386.4 385,386.7 386,386.6 C387,386.5 387.8,385.9 388.8,385.5 C389.7,385.1 390.6,384.4 391.7,384.1 C392.8,383.7 394.8,383.5 395.4,383.3"/>
<path d="M373.7,372.2 C374.1,373.1 375.5,376 376.4,377.5 C377.3,379 378.2,380 379.3,381.1 C380.4,382.3 381.8,383.5 383,384.4 C384.1,385.3 385.5,386.1 386,386.4"/>
<path d="M344.6,411.8 C345.7,411.7 348.8,411.4 350.8,411.1 C352.8,410.8 354.7,410.4 356.7,410 C358.6,409.5 360.8,409.1 362.5,408.5 C364.2,408 365.4,407.2 366.9,406.7 C368.4,406.1 369.8,405.7 371.3,405.2 C372.7,404.7 374.2,404.4 375.7,403.8 C377.1,403.2 378.7,402.3 380,401.6 C381.4,400.8 382.7,400.1 383.7,399.4 C384.7,398.7 385.2,397.4 386,397.6 C386.9,397.7 387.8,399.2 388.8,400.1 C389.7,401 390.6,402 391.7,403 C392.8,404 394.8,405.6 395.4,406.1"/>
<path d="M344.6,411.8 C345.4,411.8 347.9,411.7 349.4,411.8 C350.9,411.9 352.1,412.3 353.8,412.5 C355.5,412.8 357.7,413.1 359.6,413.3 C361.5,413.4 363.6,413.3 365.4,413.3 C367.3,413.2 369.2,413.3 370.5,412.9 C371.9,412.5 372.5,412 373.5,411.1 C374.4,410.2 375.3,408.8 376.4,407.4 C377.5,406.1 378.8,404.4 380,403 C381.3,401.7 382.7,400.3 383.7,399.4 C384.7,398.5 385.6,397.9 386,397.6"/>
<path d="M370.5,405.2 C371.2,405.3 373.1,405.5 374.2,406 C375.3,406.4 376.1,406.9 377.1,407.8 C378.1,408.6 379.2,409.9 380,411.1 C380.9,412.2 381.6,413.5 382.2,414.7 C382.9,415.9 383.6,417.8 383.8,418.4"/>
<path d="M344.6,412.4 C345.3,412.8 347.4,414 348.6,414.7 C349.9,415.5 351.3,416.3 352.3,416.9 C353.3,417.5 354.4,418.1 354.9,418.4"/>
</g>
<clipPath id="vb7"><rect x="0" y="0" width="700" height="416"/></clipPath>
<g clip-path="url(#vb7)">
<path d="M389.6,385.3 C390.3,385 392.3,383.6 393.6,383.5 C395,383.3 396.4,383.8 398,384.4 C399.6,385 401.4,385.9 403.1,387 C404.8,388 406.5,389.5 408.2,390.6 C410,391.8 411.7,393.1 413.4,393.9 C415.1,394.8 416.9,395.7 418.5,395.7 C420,395.7 421.3,394.9 422.8,393.9 C424.4,392.9 426.3,391.2 428,389.9 C429.7,388.6 431.6,387.2 433.1,386.2 C434.5,385.3 435.5,384.6 436.7,384.1 C437.9,383.5 439.8,383.1 440.4,383"/>
<path d="M401.2,372.2 C401.7,373.4 403.4,376.7 404.6,378.9 C405.8,381.2 407,383.5 408.2,385.5 C409.5,387.6 410.7,389.8 411.9,391.4 C413.1,392.9 414.5,393.9 415.5,394.6 C416.6,395.4 417.4,395.9 418.5,395.7 C419.6,395.6 420.9,394.5 422.1,393.5 C423.3,392.6 424.5,391.4 425.8,389.9 C427,388.4 428.3,386.6 429.4,384.8 C430.5,383 431.5,381 432.3,378.9 C433.2,376.9 434,373.4 434.3,372.2"/>
<path d="M418.5,395.7 C419.2,395.3 421.5,393.9 422.8,392.8 C424.2,391.7 425.2,390.9 426.5,389.2 C427.8,387.5 429.4,384.7 430.9,382.6 C432.3,380.5 433.9,378.5 435.3,376.8 C436.6,375 438.4,373 439.1,372.2"/>
<path d="M389.6,401 C390.4,401.7 392.7,403.9 394.4,405.2 C396,406.5 397.8,407.9 399.5,408.9 C401.2,409.8 402.8,410.6 404.6,411.1 C406.4,411.6 408.1,411.7 410.4,411.8 C412.7,411.9 416,411.7 418.5,411.6 C420.9,411.5 423,411.3 425,411.1 C427.1,410.8 429.2,410.3 430.9,410 C432.6,409.6 433.7,409.3 435.3,408.9 C436.8,408.4 439.5,407.5 440.4,407.3"/>
<path d="M396.9,418.4 C397.8,417.9 400.5,416.6 402.4,415.8 C404.3,415 406.3,414.2 408.2,413.6 C410.2,413 412.4,412.5 414.1,412.2 C415.8,411.8 417,411.6 418.5,411.6 C419.9,411.5 421.3,411.6 422.8,411.8 C424.4,412 426.1,412.3 428,412.5 C429.8,412.7 431.7,412.8 433.8,412.9 C435.9,413 439.3,412.9 440.4,412.9"/>
<path d="M407.9,418.4 C408.6,417.9 410.6,416.4 411.9,415.4 C413.2,414.5 414.5,413.5 415.5,412.9 C416.6,412.2 417.5,411.5 418.5,411.6 C419.4,411.6 420.3,412.6 421.4,413.3 C422.5,413.9 423.6,414.6 425,415.4 C426.4,416.3 429,417.9 429.8,418.4"/>
<path d="M409,418.4 C409.6,417.9 411.5,416.5 412.6,415.6 C413.8,414.7 414.9,413.7 415.9,413.1 C416.9,412.5 418,412 418.5,411.8"/>
</g>
<clipPath id="vb8"><rect x="0" y="0" width="700" height="416"/></clipPath>
<g clip-path="url(#vb8)">
<path d="M429.6,389.5 C430.3,389 432.4,387.2 433.6,386.2 C434.9,385.3 436.1,384.5 437.3,384.1 C438.5,383.6 439.7,383.4 440.9,383.5 C442.2,383.6 443.4,384.3 444.6,384.8 C445.8,385.3 446.9,386.1 448.2,386.6 C449.6,387.1 451.3,387.6 452.6,387.7 C454,387.8 455.2,387.6 456.3,387.1 C457.4,386.6 458.1,385.7 459.2,384.8 C460.3,383.9 461.5,382.6 462.8,381.5 C464.2,380.4 465.9,379.1 467.2,378.2 C468.6,377.3 469.8,376.7 470.9,376 C471.9,375.4 473,374.7 473.4,374.4"/>
<path d="M473.4,373 C472.9,372.9 471.1,372.7 470.1,372.6 C469.2,372.5 468.2,372.3 467.8,372.2"/>
<path d="M429.6,383.7 C430.1,382.9 431.4,380.9 432.2,378.9 C433,377 434.1,373.4 434.5,372.2"/>
<path d="M429.6,386.8 C430.4,385.6 432.7,382.1 434.4,379.7 C436,377.2 438.8,373.5 439.6,372.2"/>
<path d="M429.6,411.2 C430.3,411 432.4,410.4 433.6,410 C434.9,409.6 436.1,409.4 437.3,408.9 C438.5,408.4 439.5,407.7 440.9,407.1 C442.3,406.4 444.5,405 445.7,405.2 C446.9,405.4 447.2,407.1 448.2,408.1 C449.3,409.2 450.8,410.6 451.9,411.8 C453,413 453.8,414.4 454.8,415.4 C455.8,416.5 457.4,417.9 457.9,418.4"/>
<path d="M429.6,411.6 C430.3,411.7 432.3,412.3 433.6,412.5 C435,412.7 436,412.8 438,412.9 C440,413 444,412.6 445.7,413.3 C447.4,413.9 447.6,416.1 448.2,416.9 C448.9,417.8 449.3,418.1 449.5,418.4"/>
<path d="M455.2,418.4 C455.5,418.1 456.3,416.8 457,416.5 C457.7,416.2 458.3,416.2 459.2,416.5 C460.1,416.8 461.9,418.1 462.5,418.4"/>
</g>
<clipPath id="vb9"><rect x="0" y="416" width="700" height="46"/></clipPath>
<g clip-path="url(#vb9)">
<path d="M71.3,456.3 C71.8,456 73.4,455.2 74.4,454.1 C75.4,453.1 76.3,451.6 77.3,449.8 C78.3,447.9 79.2,445.5 80.2,443.2 C81.2,440.9 82.2,438.5 83.1,435.9 C84.1,433.3 85.2,430.3 86.1,427.9 C86.9,425.4 87.6,423.7 88.2,421.3 C88.9,418.9 89.9,414.9 90.2,413.6"/>
<path d="M71.3,456.3 C72.1,456.1 74.4,455.7 75.8,454.9 C77.3,454 78.9,452.6 80.2,451.2 C81.6,449.9 82.7,448.5 83.9,446.8 C85.1,445.1 86.3,443.2 87.5,441 C88.7,438.8 90.1,436 91.2,433.7 C92.3,431.4 93.2,429.2 94.1,427.1 C94.9,425.1 95.6,423 96.3,421.3 C96.9,419.6 97.6,417.6 98.1,416.9 C98.6,416.3 98.6,416.8 99.2,417.5 C99.7,418.2 100.5,419.8 101.4,421.3 C102.2,422.8 103.3,424.7 104.3,426.4 C105.3,428.1 106.5,430.3 107.2,431.5 C108,432.7 108,433.2 108.7,433.6 C109.4,433.9 110.8,433.6 111.6,433.7 C112.5,433.8 113.1,434.5 113.8,434.1 C114.5,433.6 115.3,432.3 116,431.2 C116.7,430 117.4,428.2 118.2,427.1 C118.9,426.1 120,425.3 120.4,424.9"/>
<path d="M98.1,413.6 C98.6,414.4 100.2,416.7 101.4,418.4 C102.5,420 103.8,421.8 105,423.5 C106.3,425.2 107.5,426.9 108.7,428.6 C109.9,430.3 111.2,432.1 112.3,433.7 C113.4,435.3 114.3,436.6 115.3,438.1 C116.2,439.5 117.3,441.3 118.2,442.5 C119,443.7 120,444.9 120.4,445.4"/>
<path d="M94.8,464.4 C95.3,463.4 96.8,460.5 97.7,458.5 C98.7,456.6 99.6,454.9 100.7,452.7 C101.8,450.5 103.1,447.6 104.3,445.4 C105.5,443.1 106.9,440.3 108,439.2 C109.1,438 109.9,438.6 110.9,438.5 C111.8,438.3 112.8,437.7 113.8,438.1 C114.8,438.5 115.6,439.9 116.7,441 C117.8,442.2 119.8,444.4 120.4,445"/>
<path d="M104.9,464.4 C105.3,463.1 106.5,459.5 107.2,457.1 C108,454.6 108.7,451.9 109.4,449.8 C110.1,447.6 110.8,445.4 111.6,444.3 C112.5,443.1 113.7,443 114.5,442.8 C115.4,442.6 115.7,442.7 116.7,443.2 C117.7,443.7 119.8,445.3 120.4,445.8"/>
<path d="M112,413.6 C112.3,414.2 113.2,416 113.8,416.9 C114.3,417.8 114.6,418.9 115.3,419.1 C115.9,419.3 116.6,418.4 117.4,418 C118.3,417.6 119.9,417.1 120.4,416.9"/>
</g>
<clipPath id="vb10"><rect x="0" y="416" width="700" height="46"/></clipPath>
<g clip-path="url(#vb10)">
<path d="M119.6,415.1 C120.1,415.5 121.3,416.7 122.2,417.6 C123.1,418.6 124,420 125.1,420.9 C126.2,421.9 127.2,422.5 128.8,423.5 C130.3,424.5 133,426.1 134.6,427.1 C136.2,428.2 137,429.1 138.2,429.7 C139.5,430.3 140.7,430.8 141.9,430.8 C143.1,430.7 144.5,430.2 145.5,429.3 C146.6,428.5 147.6,427 148.5,425.7 C149.3,424.3 150,422.6 150.7,421.3 C151.3,420 151.7,418.9 152.1,417.6 C152.6,416.4 153.2,414.3 153.4,413.6"/>
<path d="M119.6,423.6 C120.2,423.4 121.9,422.5 122.9,422 C124,421.6 124.7,420.9 125.8,420.9 C126.9,420.9 128.4,421.5 129.5,422 C130.6,422.6 131.6,423.4 132.4,424.2 C133.3,425.1 133.6,427.1 134.6,427.1 C135.6,427.1 137,425.2 138.2,424.2 C139.5,423.2 140.7,422.2 141.9,421.3 C143.1,420.4 144.3,419.6 145.5,418.7 C146.8,417.9 148,416.9 149.2,416.2 C150.4,415.5 151.6,414.8 152.8,414.7 C154.1,414.7 155.3,415.2 156.5,415.8 C157.7,416.4 158.9,417.5 160.1,418.4 C161.4,419.3 162.7,420.6 163.8,421.3 C164.9,422 166,422.9 166.7,422.8 C167.4,422.6 167.6,421.6 168.2,420.6 C168.8,419.5 170,417.2 170.4,416.6"/>
<path d="M119.6,430.4 C120.1,431.3 121.3,434.3 122.2,435.9 C123,437.5 123.9,439.4 124.7,439.9 C125.6,440.4 126.4,439.7 127.3,438.8 C128.2,437.9 129.2,436 130.2,434.4 C131.2,432.9 132.4,430.5 133.1,429.3 C133.9,428.1 134.4,427.5 134.6,427.1"/>
<path d="M119.6,444.1 C120.1,443.9 121.3,443.5 122.2,443.2 C123,442.9 123.9,442 124.7,442.5 C125.6,443 126.5,444.7 127.3,446.1 C128.1,447.6 128.8,449.6 129.5,451.2 C130.2,452.8 130.8,454.1 131.7,455.6 C132.5,457.1 133.5,460 134.6,460.4 C135.7,460.7 137,459 138.2,457.8 C139.5,456.6 140.7,454.8 141.9,453.4 C143.1,452.1 144.3,450.6 145.5,449.8 C146.8,449 148,448.7 149.2,448.7 C150.4,448.7 151.6,449.3 152.8,449.8 C154.1,450.3 155.3,451 156.5,451.6 C157.7,452.1 158.9,452.7 160.1,453.1 C161.4,453.4 162.7,453.6 163.8,453.8 C164.9,453.9 165.6,454.3 166.7,454 C167.8,453.7 169.8,452.2 170.4,451.8"/>
<path d="M119.6,445.2 C120.3,446 122.4,448.3 123.6,449.8 C124.9,451.3 126.1,452.8 127.3,454.1 C128.5,455.5 129.7,456.8 130.9,457.8 C132.2,458.8 133.4,459.3 134.6,460 C135.8,460.7 137,461.6 138.2,462.2 C139.5,462.8 140.7,463.5 141.9,463.6 C143.1,463.8 144.3,463.4 145.5,462.9 C146.8,462.4 148,461.6 149.2,460.7 C150.4,459.9 151.6,459 152.8,457.8 C154.1,456.6 155.3,455 156.5,453.4 C157.7,451.8 158.9,449.8 160.1,448.3 C161.4,446.8 162.7,445.6 163.8,444.7 C164.9,443.7 165.9,443.6 166.7,442.8 C167.5,442.1 167.9,441.3 168.5,440.3 C169.1,439.3 170.1,437.5 170.4,437"/>
<path d="M166.7,422.8 C167,423.2 167.6,424.8 168.2,425.7 C168.8,426.6 170,427.6 170.4,428"/>
<path d="M166.7,442.8 C167,443.5 167.6,445.7 168.2,446.8 C168.8,448 170,449.4 170.4,449.9"/>
<path d="M134.6,460.7 L133.7,464.4"/>
</g>
<clipPath id="vb11"><rect x="0" y="416" width="700" height="46"/></clipPath>
<g clip-path="url(#vb11)">
<path d="M167.2,422 C167.6,421.4 168.6,419.8 169.4,418.4 C170.1,417 171.3,414.4 171.7,413.6"/>
<path d="M164.6,421.9 C165.1,422 166.3,422 167.2,422.8 C168.1,423.5 169.1,425.2 170.1,426.4 C171.1,427.6 172.2,429.1 173,430.1 C173.9,431 174.4,431.4 175.2,431.9 C176.1,432.4 177,432.7 178.1,433 C179.2,433.3 180.6,433.7 181.8,433.7 C183,433.7 184.3,433.3 185.4,433 C186.5,432.6 187.4,432.2 188.4,431.5 C189.3,430.8 190.2,429.5 191.3,428.6 C192.4,427.7 193.8,426.7 194.9,426.4 C196,426.1 196.9,426.5 197.8,426.8 C198.8,427 199.9,427.3 200.8,427.9 C201.6,428.4 202.2,429.2 203,430.1 C203.7,430.9 204.4,431.9 205.1,433 C205.9,434.1 206.6,435.5 207.3,436.6 C208.1,437.7 208.6,439.3 209.5,439.5 C210.5,439.8 212.2,438.3 213.2,438.1 C214.1,437.8 215,438.1 215.4,438.1"/>
<path d="M167.2,443.2 C167.6,442.3 168.5,439.5 169.4,438.1 C170.2,436.6 171.3,435.5 172.3,434.4 C173.3,433.4 174.1,432.6 175.2,431.9 C176.3,431.2 177.7,430.5 178.9,430.4 C180.1,430.4 181.3,431.7 182.5,431.5 C183.7,431.3 185,429.9 186.2,429.3 C187.4,428.8 188.8,428.4 189.8,428.2 C190.8,428.1 191.2,428.1 192,428.6 C192.9,429.1 194,430.4 194.9,431.5 C195.9,432.6 196.9,434 197.8,435.2 C198.8,436.4 199.8,437.6 200.8,438.8 C201.7,440 202.7,441.3 203.7,442.5 C204.7,443.7 205.6,445 206.6,446.1 C207.6,447.2 208.6,448.1 209.5,449 C210.5,450 211.5,451.1 212.4,452 C213.4,452.8 214.9,454 215.4,454.4"/>
<path d="M164.6,453.6 C165.1,453.4 166.4,453.3 167.2,452.7 C168,452.1 168.5,451.1 169.4,449.8 C170.2,448.4 171.3,446.2 172.3,444.7 C173.3,443.1 174.2,441.6 175.2,440.3 C176.2,438.9 177.2,437.6 178.1,436.6 C179.1,435.7 180,434.6 180.7,434.4 C181.4,434.3 181.8,434.9 182.5,435.9 C183.2,436.9 184,438.9 184.7,440.3 C185.4,441.6 186.2,442.6 186.9,443.9 C187.6,445.3 188.4,447 189.1,448.3 C189.8,449.6 190.5,450.9 191.3,452 C192,453.1 192.6,454.2 193.5,454.9 C194.3,455.5 195.3,455.8 196.4,456 C197.5,456.2 198.9,456.3 200,456 C201.1,455.7 202,454.8 203,454.1 C203.9,453.5 204.9,452.6 205.9,452.3 C206.8,452 208.3,452.3 208.8,452.3"/>
<path d="M164.6,443.1 C165.1,443.2 166.4,443.2 167.2,443.9 C168,444.7 168.6,446.4 169.4,447.6 C170.1,448.8 170.8,450 171.6,451.2 C172.3,452.4 172.9,453.7 173.8,454.9 C174.6,456.1 175.7,457.5 176.7,458.5 C177.7,459.6 178.6,460.5 179.6,461.1 C180.6,461.7 181.5,462.4 182.5,462.2 C183.5,462 184.5,461 185.4,460 C186.4,459 187.4,457.6 188.4,456.3 C189.3,455.1 190.3,453.9 191.3,452.7 C192.3,451.5 193.2,450.4 194.2,449 C195.2,447.7 196.1,446.2 197.1,444.7 C198.1,443.1 199.1,441.3 200,439.5 C201,437.8 202,436 203,434.4 C203.9,432.9 204.9,431.6 205.9,430.1 C206.8,428.5 207.8,425.7 208.8,425.3 C209.8,424.9 210.6,427.2 211.7,427.9 C212.8,428.5 214.8,429.1 215.4,429.3"/>
<path d="M205,413.6 C205.4,414.3 206.6,416.7 207.3,417.6 C208.1,418.6 208.7,419.5 209.5,419.5 C210.4,419.5 211.6,418.6 212.4,417.6 C213.3,416.7 214.4,414.3 214.8,413.6"/>
<path d="M205.9,445.4 C206.4,445.5 207.8,445.5 208.8,446.1 C209.8,446.7 210.6,448 211.7,449 C212.8,450 214.8,451.6 215.4,452.1"/>
<path d="M205.9,452 C206.4,452.4 207.8,454 208.8,454.9 C209.8,455.7 210.6,456.4 211.7,457.1 C212.8,457.7 214.8,458.4 215.4,458.7"/>
</g>
<clipPath id="vb12"><rect x="0" y="416" width="700" height="46"/></clipPath>
<g clip-path="url(#vb12)">
<path d="M209.6,419.3 C210.2,419 212,418.4 212.9,417.6 C213.8,416.9 214.7,415.4 215.1,414.7 C215.6,414.1 215.5,413.8 215.6,413.6"/>
<path d="M209.6,427 C210.2,427.4 211.6,428.9 212.9,429.3 C214.2,429.7 216,430.2 217.3,429.3 C218.6,428.5 219.5,426.3 220.9,424.2 C222.3,422.2 224.5,417.5 225.7,416.9 C226.9,416.3 227.5,419.4 228.2,420.6 C229,421.8 229.5,423.2 230.4,424.2 C231.4,425.2 233.1,426.5 234.1,426.4 C235.1,426.3 235.5,424.8 236.3,423.5 C237,422.2 237.9,419.7 238.5,418.4 C239.1,417 239.5,416.3 239.9,415.5 C240.3,414.7 240.7,413.9 240.8,413.6"/>
<path d="M216.6,455.6 C217.3,455 219.6,453.4 220.9,452 C222.3,450.5 223.4,448.7 224.6,446.8 C225.8,445 227,443.1 228.2,441 C229.5,438.9 230.8,436.5 231.9,434.4 C233,432.4 233.8,430.7 234.8,428.6 C235.8,426.5 237,423.7 237.7,422 C238.5,420.3 238.7,419.8 239.2,418.4 C239.7,417 240.5,414.4 240.8,413.6"/>
<path d="M238.5,420.6 C238.8,421.3 239.8,423.2 240.7,424.9 C241.5,426.7 242.5,428.7 243.6,430.8 C244.7,432.9 246,435.3 247.2,437.4 C248.4,439.4 249.7,441.4 250.9,443.2 C252.1,445 253.3,446.8 254.5,448.3 C255.7,449.8 257.2,451.1 258.2,452 C259.1,452.8 260,453.3 260.4,453.6"/>
<path d="M245.6,413.6 C246,414.4 247.2,416.4 248,418.4 C248.7,420.4 249.4,423 250.1,425.7 C250.9,428.4 251.6,431.8 252.3,434.4 C253.1,437.1 253.7,439.5 254.5,441.7 C255.4,443.9 256.5,446 257.4,447.6 C258.4,449.2 259.9,450.7 260.4,451.4"/>
<path d="M209.6,439.7 C210.2,439.4 211.8,437.6 212.9,437.7 C214.1,437.8 215.6,439.1 216.6,440.3 C217.5,441.4 218,443.2 218.8,444.7 C219.5,446.1 220.3,447.3 220.9,449 C221.6,450.7 222,452.8 222.8,454.9 C223.5,456.9 224.7,459.9 225.3,461.4 C226,463 226.4,463.9 226.6,464.4"/>
<path d="M209.6,447.2 C210.2,447.9 211.9,449.9 212.9,451.2 C214,452.5 215.1,454.1 215.8,454.9 C216.6,455.6 216.4,456 217.3,455.6 C218.2,455.2 220.3,453.2 220.9,452.7"/>
<path d="M209.6,453.9 C210.4,454.5 213.1,455.9 214.4,457.1 C215.7,458.2 216.5,459.5 217.3,460.7 C218.1,461.9 218.6,463.8 218.9,464.4"/>
<path d="M230.4,435.9 C230.9,436 232.5,435.9 233.4,436.3 C234.2,436.6 234.9,437.1 235.5,438.1 C236.2,439.1 236.5,440.9 237,442.5 C237.5,444 238,445.9 238.5,447.6 C239,449.3 239.4,451 239.9,452.7 C240.4,454.4 240.9,455.8 241.4,457.8 C241.9,459.7 242.7,463.3 243,464.4"/>
</g>
<clipPath id="vb13"><rect x="0" y="416" width="700" height="46"/></clipPath>
<g clip-path="url(#vb13)">
<path d="M254.6,439.5 C255.1,440.5 256.3,443.3 257.2,445.4 C258.1,447.5 259.1,450.3 260.1,452 C261.1,453.6 262.1,454.5 263,455.2 C263.9,455.9 264.5,456.3 265.4,456.2 C266.4,456.1 267.7,455.8 268.9,454.9 C270,453.9 271.3,452.2 272.5,450.5 C273.7,448.8 275,447 276.2,444.7 C277.4,442.3 278.7,439.3 279.8,436.6 C280.9,434 281.9,431.2 282.7,428.6 C283.6,426 284.2,423.8 284.9,421.3 C285.7,418.8 286.9,414.9 287.3,413.6"/>
<path d="M254.6,449.5 C255.2,450.1 256.9,451.8 257.9,452.7 C259,453.6 259.6,454.3 260.8,454.9 C262.1,455.5 264.7,456 265.4,456.2"/>
<path d="M286.2,464.4 C286.6,463.1 287.8,459.6 288.6,457.1 C289.3,454.5 290,451.7 290.8,449 C291.5,446.4 292.2,443.8 293,441 C293.7,438.2 294.3,435.4 295.1,432.2 C296,429.1 297.2,423.9 298.1,422 C298.9,420.2 299.6,421.5 300.3,421.3 C300.9,421.1 300.9,420.2 301.7,420.6 C302.6,421 304.8,423.1 305.4,423.6"/>
<path d="M295.7,413.6 C296.1,413.9 297.3,414.7 298.1,415.5 C298.8,416.3 299.5,417.5 300.3,418.4 C301,419.3 301.6,420.2 302.4,420.9 C303.3,421.7 304.9,422.6 305.4,422.9"/>
</g>
<clipPath id="vb14"><rect x="0" y="416" width="700" height="46"/></clipPath>
<g clip-path="url(#vb14)">
<path d="M299.6,418.8 C300.3,419.4 302.4,421 303.6,422 C304.9,423.1 306,424 307.3,424.9 C308.6,425.9 310.1,427 311.7,427.5 C313.3,428.1 315.1,428.3 316.8,428.2 C318.5,428.2 320.3,427.7 321.9,427.1 C323.5,426.6 324.8,425.9 326.3,424.9 C327.7,424 329.3,422.5 330.7,421.3 C332,420.1 333.1,418.9 334.3,417.6 C335.5,416.4 337.5,414.3 338.1,413.6"/>
<path d="M311.5,464.4 C312,463.3 313.6,460 314.6,457.8 C315.6,455.6 316.5,453.4 317.5,451.2 C318.5,449 319.5,446.7 320.4,444.7 C321.4,442.6 322.4,440.8 323.4,438.8 C324.3,436.9 325.3,434.9 326.3,433 C327.3,431 328.3,428.8 329.2,427.1 C330,425.4 330.5,424.1 331.4,422.8 C332.2,421.4 333.3,420.3 334.3,419.1 C335.3,417.9 336.5,416.4 337.2,415.5 C338,414.5 338.6,413.9 338.8,413.6"/>
</g>
<clipPath id="vb15"><rect x="0" y="416" width="700" height="46"/></clipPath>
<g clip-path="url(#vb15)">
<path d="M344.6,413.6 C345.4,414.2 347.7,415.8 349.4,416.9 C351,418.1 352.8,419.2 354.5,420.6 C356.2,421.9 358,423.6 359.6,424.9 C361.2,426.3 362.6,427.5 364,428.6 C365.3,429.7 366.7,430.8 367.6,431.5 C368.6,432.2 369,432.7 369.8,432.6 C370.7,432.5 371.9,431.2 372.7,430.8 C373.6,430.4 374.2,430.3 374.9,430.4 C375.7,430.5 376.4,431.3 377.1,431.5 C377.8,431.8 378.5,432.4 379.3,431.9 C380.2,431.4 381.1,430.1 382.2,428.6 C383.3,427.1 384.7,424.1 385.9,422.8 C387.1,421.4 387.9,421.3 389.5,420.6 C391.1,419.8 394.4,418.6 395.4,418.2"/>
<path d="M346.1,413.6 C346.9,414.3 349.2,416.3 350.8,417.6 C352.5,419 354.2,420.4 355.9,422 C357.7,423.6 359.5,425.7 361.1,427.1 C362.6,428.6 364.2,429.8 365.4,430.8 C366.7,431.8 367.4,432.3 368.4,433 C369.3,433.6 370.3,434.2 371.3,434.8 C372.3,435.4 373.2,435.7 374.2,436.6 C375.2,437.5 376.1,438.9 377.1,440.3 C378.1,441.6 379.1,443.2 380,444.7 C381,446.1 382,447.5 383,449 C383.9,450.6 384.9,453.8 385.9,453.8 C386.8,453.8 387.8,450.8 388.8,449 C389.8,447.3 390.6,445.2 391.7,443.2 C392.8,441.2 394.8,438.2 395.4,437.2"/>
<path d="M352.3,419.1 C352.7,420.1 353.6,422.8 354.5,424.9 C355.3,427.1 356.4,429.8 357.4,432.2 C358.4,434.7 359.4,437.2 360.3,439.5 C361.3,441.9 362.3,443.9 363.2,446.1 C364.2,448.3 365.2,450.5 366.2,452.7 C367.1,454.9 368.4,457.7 369.1,459.3 C369.8,460.8 369.7,461.8 370.5,462.2 C371.4,462.5 373,462.2 374.2,461.4 C375.4,460.7 376.8,459.1 377.8,457.8 C378.9,456.5 379.8,455 380.8,453.4 C381.7,451.8 382.7,449.9 383.7,448.3 C384.7,446.7 385.5,445 386.6,443.9 C387.7,442.8 388.8,442.9 390.3,441.7 C391.7,440.6 394.5,438 395.4,437.2"/>
<path d="M379.3,431.9 C379.8,432.6 381.3,434.5 382.2,435.9 C383.2,437.3 384.4,439.1 385.1,440.3 C385.9,441.5 386.4,442.7 386.6,443.2"/>
<path d="M381.4,413.6 C381.7,414.3 382.9,416.3 383.7,417.6 C384.4,419 385.5,421.3 385.9,422"/>
<path d="M369.8,433.3 C370.3,433.5 371.8,433.8 372.7,434.4 C373.7,435.1 374.7,436.1 375.7,437.4 C376.6,438.6 377.6,440.3 378.6,441.7 C379.5,443.2 380.6,444.8 381.5,446.1 C382.3,447.5 383.3,449.2 383.7,449.8"/>
</g>
<clipPath id="vb16"><rect x="0" y="416" width="700" height="46"/></clipPath>
<g clip-path="url(#vb16)">
<path d="M389.6,421.1 C390.7,420.6 393.8,419.3 395.8,418.4 C397.8,417.5 399.9,416.6 401.7,415.8 C403.4,415 405.6,414 406.4,413.6"/>
<path d="M389.6,449.4 C390.2,448.4 391.9,445.1 392.9,443.2 C394,441.3 394.7,439.9 395.8,438.1 C396.9,436.3 398.3,434.2 399.5,432.2 C400.7,430.3 401.9,428.1 403.1,426.4 C404.4,424.7 405.6,423.5 406.8,422 C408,420.6 409.3,419 410.4,417.6 C411.6,416.3 413,414.3 413.5,413.6"/>
<path d="M389.6,441.9 C390.2,441.5 391.9,440.4 392.9,439.5 C394,438.7 394.7,438 395.8,436.6 C396.9,435.3 398.3,433.3 399.5,431.5 C400.7,429.7 401.8,427.4 403.1,425.7 C404.5,424 406.1,422.9 407.5,421.3 C409,419.7 410.8,417.5 411.9,416.2 C413,414.9 413.8,414.1 414.2,413.6"/>
<path d="M394.4,438.8 C395,438 396.8,435.5 398,433.7 C399.2,431.9 400.5,429.9 401.7,428.2 C402.9,426.5 404.1,425 405.3,423.5 C406.5,422 407.8,420.8 409,419.1 C410.2,417.5 412,414.5 412.6,413.6"/>
<path d="M422,413.6 C422.7,414.3 425,416.3 426.5,417.6 C428,419 429.4,420.6 430.9,422 C432.3,423.5 433.7,424.9 435.3,426.4 C436.8,428 439.5,430.5 440.4,431.4"/>
<path d="M422.8,413.6 C423.7,414.4 426.3,416.7 428,418.4 C429.7,420 431.5,421.9 433.1,423.5 C434.6,425.1 436.2,426.7 437.4,427.9 C438.7,429 439.9,429.8 440.4,430.2"/>
<path d="M424.3,414.4 C424.9,415.5 426.9,419.2 428,421.3 C429.1,423.4 429.9,425.1 430.9,427.1 C431.8,429.2 432.8,431.5 433.8,433.7 C434.8,435.9 435.6,437.8 436.7,440.3 C437.8,442.8 439.8,447.3 440.4,448.7"/>
</g>
<clipPath id="vb17"><rect x="0" y="416" width="700" height="46"/></clipPath>
<g clip-path="url(#vb17)">
<path d="M429.6,418 C430.3,418.7 432.4,420.6 433.6,422 C434.9,423.4 436.1,425.1 437.3,426.4 C438.5,427.7 439.5,429.1 440.9,430.1 C442.3,431 444.5,432.1 445.7,431.9 C446.9,431.6 447.3,430 448.2,428.6 C449.2,427.2 450.1,425.2 451.2,423.5 C452.3,421.8 453.7,419.5 454.8,418.4 C455.9,417.2 456.8,416.8 457.7,416.6 C458.7,416.3 459.6,416.4 460.7,416.9 C461.8,417.5 463,418.7 464.3,419.8 C465.6,420.9 467.2,422.3 468.7,423.5 C470.1,424.7 472.3,426.5 473.1,427.1"/>
<path d="M429.6,420.2 C430.4,421 432.9,423.4 434.4,424.9 C435.9,426.5 437.4,428 438.8,429.3 C440.1,430.7 441.3,432 442.4,433 C443.6,434 444.6,434.4 445.7,435.2 C446.8,435.9 447.7,436.7 449,437.4 C450.3,438 451.9,439.1 453.4,439.2 C454.8,439.3 456.3,438.8 457.7,438.1 C459.2,437.4 460.7,436.1 462.1,435.2 C463.6,434.2 465.2,433.2 466.5,432.2 C467.8,431.3 469.1,430.2 470.1,429.3 C471.2,428.5 472.6,427.5 473.1,427.1"/>
<path d="M429.6,420.9 C430.3,421.8 432.4,424.6 433.6,426.4 C434.9,428.2 436.1,430.2 437.3,431.5 C438.5,432.8 439.5,433.3 440.9,434.1 C442.3,434.8 444.2,435.2 445.7,435.9 C447.2,436.6 448.4,437 449.7,438.1 C451,439.2 452.1,440.9 453.4,442.5 C454.6,444 455.8,445.9 457,447.6 C458.2,449.3 459.3,451.1 460.7,452.7 C462,454.3 463.6,456 465,457.1 C466.5,458.2 468.1,458.7 469.4,459.3 C470.8,459.8 472.5,460.2 473.1,460.4"/>
<path d="M429.6,423.5 C430.2,424.8 431.9,429 432.9,431.5 C434,434.1 434.9,436.4 435.8,438.8 C436.8,441.3 437.8,443.7 438.8,446.1 C439.7,448.5 440.7,451.1 441.7,453.4 C442.7,455.7 443.8,458.2 444.6,460 C445.4,461.8 446.2,463.6 446.6,464.4"/>
<path d="M446.6,413.6 C447,414.4 448.1,416.6 449,418.4 C449.9,420.1 450.9,422.3 451.9,424.2 C452.9,426.2 453.8,428.1 454.8,430.1 C455.8,432 456.8,434 457.7,435.9 C458.7,437.8 459.7,439.9 460.7,441.7 C461.6,443.6 462.5,445.1 463.6,446.8 C464.7,448.5 466.1,450.4 467.2,452 C468.3,453.5 469.2,454.9 470.1,456.3 C471.1,457.7 472.6,459.7 473.1,460.4"/>
<path d="M453.2,413.6 C453.6,414.1 454.5,415.4 455.5,416.2 C456.5,417 457.9,417.5 459.2,418.4 C460.5,419.2 462.1,420.3 463.6,421.3 C465,422.3 466.4,423.2 468,424.2 C469.5,425.2 472.2,426.7 473.1,427.1"/>
<path d="M473.1,460.4 C472.7,460.7 471.5,461.5 470.9,462.2 C470.2,462.8 469.5,464 469.3,464.4"/>
</g>
<clipPath id="vb18"><rect x="0" y="462" width="700" height="67"/></clipPath>
<g clip-path="url(#vb18)">
<path d="M71.3,527.9 C72.1,525.8 74.4,519.7 75.8,515.5 C77.3,511.2 78.8,506.7 80.2,502.3 C81.7,498 83.1,493.3 84.6,489.2 C86.1,485.1 87.5,481.2 89,477.5 C90.4,473.9 92,470.3 93.4,467.3 C94.7,464.3 96.6,460.6 97.3,459.3"/>
<path d="M71.3,527.9 C72.3,526.3 75.3,521.9 77.3,518.4 C79.3,514.9 81.2,510.9 83.1,506.7 C85.1,502.6 87,498 89,493.6 C90.9,489.2 92.9,484.6 94.8,480.4 C96.8,476.3 98.8,472.3 100.7,468.8 C102.5,465.2 105.2,460.9 106.1,459.3"/>
<path d="M71.3,527.9 C72.6,527.6 76.3,527.2 78.8,526.4 C81.2,525.7 83.6,524.7 86.1,523.5 C88.5,522.3 90.9,520.8 93.4,519.1 C95.8,517.4 98.2,515.6 100.7,513.3 C103.1,511 105.5,508.3 108,505.3 C110.4,502.2 112.8,498.7 115.3,495 C117.7,491.4 120.4,487 122.6,483.4 C124.7,479.7 126.7,476.3 128.4,473.1 C130.1,470 131.6,466.7 132.8,464.4 C133.9,462.1 134.8,460.1 135.3,459.3"/>
<path d="M134.2,459.3 C134.7,459.9 135.9,462.1 137.2,462.9 C138.4,463.8 140.1,464.4 141.5,464.4 C143,464.4 144.4,463.8 145.9,462.9 C147.4,462.1 149.8,459.9 150.6,459.3"/>
<path d="M109.1,533.7 C109.9,532.1 112.3,527.3 113.8,524.2 C115.3,521.2 116.7,518.2 118.2,515.5 C119.6,512.8 120.9,510.2 122.6,508.2 C124.3,506.2 126.4,504 128.4,503.5 C130.3,503 132.5,503.7 134.2,505.3 C135.9,506.8 137.2,510.1 138.6,512.6 C140.1,515 141.5,517.4 143,519.9 C144.5,522.3 145.9,524.8 147.4,527.2 C148.9,529.5 151.3,532.6 152,533.7"/>
<path d="M111.9,533.7 C112.9,532.4 116.2,528.2 118.2,525.7 C120.2,523.1 122.1,520.8 124,518.4 C126,516 128.2,513.1 129.9,511.1 C131.6,509.1 132.5,507.3 134.2,506.4 C135.9,505.6 138.1,505.7 140.1,506 C142,506.3 144,507.2 145.9,508.2 C147.9,509.1 149.8,510.6 151.8,511.8 C153.7,513 155.6,514.4 157.6,515.5 C159.5,516.5 161.2,517.5 163.4,518.1 C165.6,518.7 169.5,519 170.7,519.1"/>
<path d="M113.5,533.7 C114.5,532.5 117.6,528.7 119.6,526.4 C121.6,524.1 123.5,522.2 125.5,519.9 C127.4,517.5 129.7,514.7 131.3,512.6 C132.9,510.4 134.4,507.7 135,506.7"/>
</g>
<clipPath id="vb19"><rect x="0" y="462" width="700" height="67"/></clipPath>
<g clip-path="url(#vb19)">
<path d="M176.4,459.3 C176.9,459.7 178.6,461.3 179.6,461.8 C180.6,462.2 181.5,462.6 182.5,462.2 C183.5,461.8 185.2,459.8 185.7,459.3"/>
<path d="M215.8,459.3 C216.6,460.9 218.7,465 220.5,468.8 C222.2,472.5 224.4,477.8 226.3,481.9 C228.3,486 230.2,489.9 232.2,493.6 C234.1,497.2 236,500.6 238,503.8 C239.9,507 241.9,509.9 243.8,512.6 C245.8,515.2 247.7,517.9 249.7,519.9 C251.6,521.8 253.6,523 255.5,524.2 C257.5,525.5 259.6,526.5 261.4,527.2 C263.1,527.8 265,527.9 265.7,528"/>
<path d="M223.8,459.3 C224.7,461.3 227.4,467.4 229.2,471.7 C231.1,475.9 233.1,480.7 235.1,484.8 C237,489 239,492.8 240.9,496.5 C242.9,500.1 244.8,503.6 246.8,506.7 C248.7,509.9 250.6,512.8 252.6,515.5 C254.5,518.2 256.2,520.7 258.4,522.8 C260.6,524.9 264.5,527.2 265.7,528"/>
<path d="M240.6,459.3 C241.3,461.3 243.2,467.4 244.6,471.7 C245.9,475.9 247.5,480.4 248.9,484.8 C250.4,489.2 251.9,493.6 253.3,498 C254.8,502.3 256.4,507.2 257.7,511.1 C259,515 260,518.5 261.4,521.3 C262.7,524.1 265,526.9 265.7,528"/>
<path d="M164.3,518.4 C165.4,518.4 168.8,518.4 170.8,518.7 C172.9,518.9 174.7,519.5 176.7,519.9 C178.6,520.2 181.1,519.9 182.5,520.6 C184,521.3 184.3,522.7 185.4,524.2 C186.5,525.8 188.1,528.5 189.1,530.1 C190.1,531.7 190.9,533.1 191.3,533.7"/>
<path d="M164.3,518.4 C165.4,518.9 168.8,520.1 170.8,521.3 C172.9,522.5 175,524.2 176.7,525.7 C178.4,527.2 179.8,528.7 181.1,530.1 C182.3,531.4 183.7,533.1 184.3,533.7"/>
<path d="M190.5,532.3 C191.6,531.4 195,528.7 197.1,527.2 C199.2,525.6 201,524.1 203,522.8 C204.9,521.4 207.1,519.7 208.8,519.1 C210.5,518.5 211.7,518.5 213.2,519.1 C214.6,519.7 216.1,521.2 217.6,522.8 C219,524.4 220.7,526.8 221.9,528.6 C223.2,530.4 224.6,532.9 225.1,533.7"/>
</g>
<clipPath id="vb20"><rect x="0" y="462" width="700" height="67"/></clipPath>
<g clip-path="url(#vb20)">
<path d="M259.3,526.4 C260.3,526.8 264,530 265.5,528.6 C267.1,527.3 267.5,522.5 268.8,518.4 C270,514.3 271.7,508.7 273.1,503.8 C274.6,498.9 276.1,494.1 277.5,489.2 C279,484.3 280.7,478.7 281.9,474.6 C283.1,470.5 283.9,466.9 284.8,464.4 C285.7,461.8 286.8,460.1 287.2,459.3"/>
<path d="M265.5,528.6 C266.6,528.2 269.7,527.6 271.7,526.4 C273.7,525.2 275.6,523.1 277.5,521.3 C279.5,519.5 281.4,517.7 283.4,515.5 C285.3,513.3 287.3,510.9 289.2,508.2 C291.1,505.5 293.1,502.6 295,499.4 C297,496.3 298.9,492.8 300.9,489.2 C302.8,485.5 305,481.2 306.7,477.5 C308.4,473.9 309.8,470.3 311.1,467.3 C312.4,464.3 313.8,460.6 314.3,459.3"/>
<path d="M259.3,520.6 C259.9,521.4 261.9,524.4 262.9,525.7 C264,527 265.1,528.1 265.5,528.6"/>
<path d="M316.6,533.7 C317.4,532.4 319.6,528.5 321.3,525.7 C323.1,522.9 325.2,519.4 327.2,516.9 C329.1,514.5 331,512.6 333,511.1 C334.9,509.6 337.1,508.6 338.8,507.9 C340.6,507.2 341.8,507 343.5,507 C345.2,507.1 347.4,507.5 349.1,508.2 C350.7,508.9 352,509.9 353.4,511.1 C354.9,512.3 356.6,514.2 357.8,515.5 C359,516.7 360.2,518.2 360.7,518.7"/>
<path d="M317.4,533.7 C318.3,532.3 320.9,527.9 322.8,525 C324.6,522 326.7,518.6 328.6,516.2 C330.6,513.8 332.5,511.8 334.5,510.4 C336.4,508.9 338.6,508.1 340.3,507.6 C342,507.1 343,507.1 344.7,507.4 C346.4,507.8 348.6,508.5 350.5,509.6 C352.5,510.7 354.6,512.7 356.4,514 C358.1,515.3 360,516.7 360.7,517.2"/>
<path d="M318.1,533.7 C319.1,532.1 322.2,527.2 324.2,524.2 C326.2,521.3 328.1,518.4 330.1,516.2 C332,514 334,512.4 335.9,511.1 C337.9,509.8 339.8,508.8 341.8,508.5 C343.7,508.1 345.6,508.2 347.6,508.9 C349.5,509.6 351.2,510.7 353.4,512.6 C355.6,514.4 359.5,518.9 360.7,520.1"/>
</g>
<clipPath id="vb21"><rect x="0" y="462" width="700" height="67"/></clipPath>
<g clip-path="url(#vb21)">
<path d="M354.1,512.2 C355.4,513.1 359.4,516.4 362,517.8 C364.6,519.3 367.3,520.7 369.9,521 C372.5,521.3 375,520.1 377.8,519.6 C380.5,519 383.6,518.4 386.5,517.8 C389.5,517.2 392.4,516.9 395.3,516.1 C398.2,515.2 401.4,513.7 404.1,512.6 C406.7,511.4 408.7,510 411.1,509.1 C413.5,508.1 416.1,506.9 418.4,506.9 C420.8,506.9 423.1,508.1 425.1,509.1 C427.1,510 428.3,511.1 430.3,512.6 C432.4,514 434.8,516.4 437.3,517.8 C439.9,519.3 443.4,521.6 445.7,521.3 C448.1,521 449.2,518 451.4,516.1 C453.5,514.2 456,511.5 458.4,509.9 C460.7,508.3 462.9,507.2 465.4,506.4 C467.8,505.6 471.9,505.4 473.2,505.2"/>
<path d="M354.1,512.2 C355.4,513.7 359.4,518 362,521.3 C364.6,524.6 367.3,528.9 369.9,531.8 C372.5,534.7 375.1,536.2 377.8,538.8 C380.4,541.5 384.3,546.1 385.7,547.6"/>
<path d="M354.1,514 C355.4,515.5 359.4,519.8 362,523.1 C364.6,526.3 367.6,531.2 369.9,533.6 C372.2,535.9 374.1,535.6 376,537.1 C377.9,538.5 379.6,540.6 381.3,542.3 C383,544.1 385.4,546.7 386.2,547.6"/>
<path d="M369.9,532.7 C370.9,531.7 374.1,528.6 376,526.6 C377.9,524.5 379.5,521.9 381.3,520.4 C383,519 385.7,518.2 386.5,517.8"/>
<path d="M385.7,547.6 C386.7,545.8 389.9,540.6 391.8,537.1 C393.7,533.6 395.3,529.8 397,526.6 C398.8,523.4 400.5,520.1 402.3,517.8 C404.1,515.5 405.8,514 407.6,512.6 C409.3,511.1 411,510 412.8,509.1 C414.6,508.1 417.5,507.3 418.4,506.9"/>
<path d="M418.4,506.9 C419.5,507.6 422.8,508.7 425.1,510.8 C427.4,512.9 429.7,516.6 432.1,519.6 C434.4,522.5 436.8,526 439.1,528.3 C441.4,530.6 443.4,533.5 445.7,533.2 C448.1,532.9 450.7,529.1 453.1,526.6 C455.5,524 457.8,520.4 460.1,517.8 C462.4,515.2 464.9,512.8 467.1,510.8 C469.3,508.8 472.2,506.7 473.2,505.9"/>
<path d="M418.4,506.9 C419.8,507.7 424.3,509.3 426.8,511.7 C429.4,514.1 431.5,518.2 433.8,521.3 C436.2,524.4 438.9,528.2 440.8,530.1 C442.8,531.9 443.4,533.4 445.7,532.5 C448.1,531.6 451.9,527.9 454.9,524.8 C457.8,521.8 460.5,517.5 463.6,514.3 C466.7,511.1 471.6,507 473.2,505.5"/>
<path d="M368.7,459.1 C369.3,459.7 371.2,462.6 372.5,462.6 C373.8,462.6 375.7,459.7 376.4,459.1"/>
<path d="M444.7,459.1 C445.5,460.1 447.3,463.6 449.6,465.3 C451.9,466.9 455.4,468.8 458.4,468.8 C461.3,468.8 464.7,466.9 467.1,465.3 C469.5,463.6 471.8,460.1 472.7,459.1"/>
</g>
<clipPath id="vb22"><rect x="0" y="529" width="700" height="60"/></clipPath>
<g clip-path="url(#vb22)">
<path d="M71.3,549.1 C72.3,549.2 75.1,549.5 77.3,549.5 C79.5,549.5 82.2,549.5 84.6,549.1 C87,548.6 89.5,547.9 91.9,546.9 C94.3,545.9 96.8,544.7 99.2,543.2 C101.6,541.8 104.1,540.2 106.5,538.1 C108.9,536.1 111.8,533.2 113.8,530.8 C115.8,528.5 117.7,525.4 118.5,524.3"/>
<path d="M78.8,573.2 C79.7,572.8 82.4,572.2 84.6,571 C86.8,569.8 89.5,567.9 91.9,565.9 C94.3,563.8 97,561.3 99.2,558.6 C101.4,555.9 103.3,553 105,549.8 C106.7,546.7 108,542.8 109.4,539.6 C110.9,536.4 112.5,533.4 113.8,530.8 C115.1,528.3 116.5,525.4 117,524.3"/>
<path d="M78.8,573.2 C80.2,572.4 84.8,570.5 87.5,568.8 C90.2,567.1 92.4,565.4 94.8,563 C97.3,560.5 99.9,557.1 102.1,554.2 C104.3,551.3 106,548.6 108,545.4 C109.9,542.3 111.8,538.7 113.8,535.2 C115.8,531.7 119,526.1 120.1,524.3"/>
<path d="M71.3,570.3 C72.1,570.5 74.6,571.2 75.8,571.7 C77.1,572.2 78.3,572.9 78.8,573.2"/>
<path d="M71.3,570.3 C72.1,571 74.4,572.9 75.8,574.6 C77.3,576.3 78.8,578.5 80.2,580.5 C81.7,582.4 83.1,584.4 84.6,586.3 C86.1,588.3 87.6,590.1 89,592.2 C90.4,594.2 92.4,597.6 93.1,598.7"/>
<path d="M72.9,571.7 C73.8,572.7 76.4,575.4 78,577.6 C79.6,579.7 80.9,582.4 82.4,584.9 C83.9,587.3 85.4,589.8 86.8,592.2 C88.2,594.5 90.2,597.6 90.9,598.7"/>
<path d="M71.3,573.2 C72.1,574.1 74.6,576.8 75.8,579 C77.1,581.2 77.8,583.9 78.8,586.3 C79.7,588.7 80.8,591.5 81.7,593.6 C82.5,595.7 83.5,597.9 83.9,598.7"/>
<path d="M147.1,524.3 C147.9,525.6 150,529.5 151.8,532.3 C153.5,535.1 155.6,538.4 157.6,541.1 C159.5,543.7 162,547 163.4,548.4 C164.9,549.7 165.1,549.6 166.4,549.1 C167.6,548.6 170,545.8 170.7,545.1"/>
</g>
<clipPath id="vb23"><rect x="0" y="529" width="700" height="60"/></clipPath>
<g clip-path="url(#vb23)">
<path d="M164.3,549.4 C165.4,548.5 168.8,546 170.8,544 C172.9,542 174.7,539.1 176.7,537.4 C178.6,535.7 180.3,534.4 182.5,533.8 C184.7,533.1 187.6,533.2 189.8,533.5 C192,533.7 193.7,534 195.7,535.2 C197.6,536.5 199.5,538.9 201.5,541.1 C203.4,543.2 205.4,546.2 207.3,548.4 C209.3,550.5 211,552.9 213.2,554.2 C215.4,555.5 217.8,555.9 220.5,556.4 C223.2,556.9 226.3,557.3 229.2,557.4 C232.2,557.5 235.1,557.5 238,556.8 C240.9,556.2 243.8,554.5 246.8,553.5 C249.7,552.4 252.3,551.3 255.5,550.5 C258.7,549.8 264,549.3 265.7,549.1"/>
<path d="M164.3,550.1 C165.6,548.8 170,544.9 172.3,542.5 C174.6,540.2 176.4,537.4 178.1,535.9 C179.8,534.5 181.8,534.4 182.5,534.1"/>
<path d="M189.8,533.5 C191,534.2 194.7,536.1 197.1,538.1 C199.5,540.1 202.2,543.2 204.4,545.4 C206.6,547.6 208.6,549.3 210.3,551.3 C212,553.2 212.9,554.9 214.6,557.1 C216.3,559.3 218.5,562.2 220.5,564.4 C222.4,566.6 224.1,568.6 226.3,570.3 C228.5,572 230.9,573.7 233.6,574.6 C236.3,575.6 239.2,575.7 242.4,575.8 C245.5,575.9 249.7,575.7 252.6,575.4 C255.5,575 257.7,574.5 259.9,573.9 C262.1,573.3 264.8,572.1 265.7,571.7"/>
<path d="M174.9,524.3 C175.7,525.1 178.1,527.9 179.6,529.4 C181.1,530.8 183.2,532.4 184,533"/>
<path d="M185.1,524.3 C185.8,525.1 188.1,528.2 189.1,529.4 C190.1,530.6 190.2,531.6 191.3,531.6 C192.4,531.6 194.1,530.6 195.7,529.4 C197.2,528.2 199.5,525.1 200.3,524.3"/>
<path d="M217.3,524.3 C218.3,526.1 221.4,531.7 223.4,535.2 C225.4,538.7 227.3,542.3 229.2,545.4 C231.2,548.6 233.1,551.8 235.1,554.2 C237,556.6 238.7,557.8 240.9,560 C243.1,562.2 245.8,565.4 248.2,567.3 C250.6,569.3 253.3,570.9 255.5,571.7 C257.7,572.6 259.6,572.6 261.4,572.4 C263.1,572.3 265,571.2 265.7,571"/>
<path d="M265.7,571.7 C264.8,572.4 261.6,574.6 259.9,576.1 C258.2,577.6 257.2,578.8 255.5,580.5 C253.8,582.2 251.6,584.4 249.7,586.3 C247.7,588.3 245.9,590.1 243.8,592.2 C241.8,594.2 238.6,597.6 237.6,598.7"/>
<path d="M265.7,573.2 C264.5,574.4 260.6,578 258.4,580.5 C256.2,582.9 254.5,585.3 252.6,587.8 C250.6,590.2 248.3,593.2 246.8,595.1 C245.2,596.9 244.1,598.1 243.5,598.7"/>
<path d="M262.1,573.9 C261.5,575.5 259.5,580.4 258.4,583.4 C257.3,586.4 256.5,589.6 255.5,592.2 C254.5,594.7 253.1,597.6 252.6,598.7"/>
<path d="M265.7,570.5 C264.3,572 259.9,575.9 257,579 C254.1,582.1 251,585.9 248.2,589.2 C245.5,592.5 241.8,597.1 240.5,598.7"/>
<path d="M253.8,524.3 C254.5,524.8 256.4,526.5 258.4,527.2 C260.4,527.9 264.5,528.4 265.7,528.6"/>
</g>
<clipPath id="vb24"><rect x="0" y="529" width="700" height="60"/></clipPath>
<g clip-path="url(#vb24)">
<path d="M259.3,549.1 C260.3,549.1 263,549 265.5,549.1 C268.1,549.2 271.6,549.5 274.6,549.8 C277.6,550.1 280.7,550.8 283.4,551 C286,551.2 288.2,551.3 290.7,551 C293.1,550.7 295.5,550.1 298,549.1 C300.4,548 303.1,546.3 305.3,544.7 C307.4,543.1 309.1,541.5 311.1,539.6 C313,537.7 315.2,535.1 316.9,533 C318.6,531 320.2,528.6 321.3,527.2 C322.5,525.7 323.4,524.8 323.8,524.3"/>
<path d="M265.5,571.7 C266.3,572.1 268.2,573.7 270.2,573.9 C272.2,574.1 275.1,573.7 277.5,573.2 C280,572.7 282.4,572 284.8,571 C287.3,570 289.9,568.9 292.1,567.3 C294.3,565.8 296,563.9 298,561.5 C299.9,559.1 301.8,555.9 303.8,552.7 C305.7,549.6 307.7,545.7 309.6,542.5 C311.6,539.4 313.5,536.4 315.5,533.8 C317.4,531.1 319.8,528 321.3,526.5 C322.8,524.9 324,524.6 324.5,524.3"/>
<path d="M259.3,573.5 C260.3,573.1 264,571.3 265.5,571 C267.1,570.7 267.7,571.1 268.8,571.7 C269.8,572.3 271.2,574.1 271.7,574.6"/>
<path d="M265.5,571 C266.3,571.6 268.7,573.1 270.2,574.6 C271.7,576.2 273.1,578.5 274.6,580.5 C276.1,582.4 277.5,584.4 279,586.3 C280.4,588.3 281.8,590.1 283.4,592.2 C284.9,594.2 287.4,597.6 288.2,598.7"/>
<path d="M267.3,572.4 C268,573.3 270.2,575.5 271.7,577.6 C273.1,579.6 274.6,582.4 276.1,584.9 C277.5,587.3 279,589.8 280.4,592.2 C281.8,594.5 283.8,597.6 284.5,598.7"/>
<path d="M268,573.2 C268.6,574.6 270.6,579 271.7,581.9 C272.8,584.9 273.7,587.9 274.6,590.7 C275.5,593.5 276.7,597.4 277.1,598.7"/>
</g>
<clipPath id="vb25"><rect x="0" y="529" width="700" height="191"/></clipPath>
<g clip-path="url(#vb25)">
<path d="M362,524.1 C363.3,525.6 367.3,530 369.9,532.9 C372.5,535.8 375.1,538.9 377.8,541.6 C380.5,544.4 383.8,550 386.2,549.5 C388.5,549.1 389.5,543.2 391.8,539 C394.1,534.8 398.8,526.6 400.2,524.1"/>
<path d="M369.9,532.9 C370.6,532.2 372.9,530 374.3,528.5 C375.6,527 377.5,524.9 378.1,524.1"/>
<path d="M370.8,533.8 C372.2,535.2 377,539.9 379.5,542.5 C382.1,545.1 385.1,548.4 386.2,549.5"/>
<path d="M437,524.1 C437.9,525.1 441.1,528.8 442.6,530.3 C444.1,531.7 444.3,533 445.7,532.9 C447.2,532.7 449.5,530.8 451.4,529.4 C453.2,527.9 456,525 457,524.1"/>
</g>
<clipPath id="vb26"><rect x="0" y="589" width="700" height="131"/></clipPath>
<g clip-path="url(#vb26)">
<path d="M75.5,579.3 C76.3,581.3 78.7,587.4 80.2,591.7 C81.7,595.9 83.1,600.2 84.6,604.8 C86.1,609.4 87.5,614.5 89,619.4 C90.4,624.3 91.7,628.5 93.4,634 C95,639.5 97.9,649.2 98.8,652.3"/>
<path d="M71.3,598.2 C72.1,598.3 74.4,598.3 75.8,598.7 C77.3,599.1 78.8,599.7 80.2,600.4 C81.7,601.2 82.9,601.9 84.6,603.4 C86.3,604.8 88.5,607.3 90.4,609.2 C92.4,611.1 94.3,612.8 96.3,615 C98.2,617.2 100.2,619.9 102.1,622.3 C104.1,624.8 106,627.2 108,629.6 C109.9,632.1 111.8,634.5 113.8,636.9 C115.7,639.4 117.7,642 119.6,644.2 C121.6,646.4 124.1,648.7 125.5,650.1 C126.9,651.4 127.5,651.9 128,652.3"/>
<path d="M81.7,601.9 C82.7,602.9 85.3,605.3 87.5,607.7 C89.7,610.2 92.6,613.8 94.8,616.5 C97,619.2 98.7,621.4 100.7,623.8 C102.6,626.2 104.5,628.7 106.5,631.1 C108.4,633.5 110.4,636 112.3,638.4 C114.3,640.8 116.2,643.4 118.2,645.7 C120.2,648 123.3,651.2 124.3,652.3"/>
<path d="M78.5,579.3 C79.5,580.9 82.6,585.5 84.6,588.8 C86.6,592 88.5,595.6 90.4,599 C92.4,602.4 94.3,605.8 96.3,609.2 C98.2,612.6 100.2,616.5 102.1,619.4 C104.1,622.3 106,624.5 108,626.7 C109.9,628.9 111.8,630.7 113.8,632.6 C115.7,634.4 117.7,636.2 119.6,637.7 C121.6,639.1 123.5,640.4 125.5,641.3 C127.4,642.2 129.9,642.7 131.3,643.1 C132.8,643.4 132.8,643.5 134.2,643.5 C135.7,643.5 138.1,643.4 140.1,643.1 C142,642.7 144,642 145.9,641.3 C147.9,640.7 149.8,639.9 151.8,639.1 C153.7,638.4 155.6,637.6 157.6,636.9 C159.5,636.3 161.8,635.5 163.4,635.2 C165.1,634.8 166.3,634.6 167.5,634.7 C168.7,634.9 170.2,636 170.7,636.2"/>
<path d="M80.7,579.3 C81.7,580.9 84.8,585.5 86.8,588.8 C88.8,592 90.7,595.6 92.6,599 C94.6,602.4 96.5,606 98.5,609.2 C100.4,612.4 102.5,615.3 104.3,618 C106.1,620.6 107.6,623.1 109.4,625.3 C111.2,627.4 113.3,629.3 115.3,631.1 C117.2,632.9 119.1,634.6 121.1,636.2 C123,637.8 124.7,639.4 126.9,640.6 C129.1,641.8 133,642.8 134.2,643.2"/>
<path d="M82.8,579.3 C83.9,581.1 87,586.7 89,590.2 C91,593.7 92.9,597 94.8,600.4 C96.8,603.8 98.7,607.5 100.7,610.7 C102.6,613.8 104.5,616.7 106.5,619.4 C108.4,622.1 110.4,624.5 112.3,626.7 C114.3,628.9 116.2,630.7 118.2,632.6 C120.1,634.4 122.1,636.2 124,637.7 C126,639.1 128.2,640.4 129.9,641.3 C131.6,642.2 133.5,642.8 134.2,643.1"/>
<path d="M154.4,652.3 C155.4,651.8 158.5,650.3 160.5,649.8 C162.5,649.2 164.6,648.9 166.4,648.9 C168.1,649 170,649.9 170.7,650.1"/>
<path d="M134.2,643.5 C135.7,643.3 140.1,643.1 143,642.5 C145.9,641.9 148.8,640.8 151.8,639.9 C154.7,638.9 157.9,637.5 160.5,636.9 C163.1,636.3 165.8,636.1 167.5,636.2 C169.2,636.3 170.2,637.4 170.7,637.7"/>
</g>
<clipPath id="vb27"><rect x="0" y="589" width="700" height="131"/></clipPath>
<g clip-path="url(#vb27)">
<path d="M164.3,634.3 C165.4,635 168.8,637.1 170.8,638.4 C172.9,639.7 174.7,641.1 176.7,642 C178.6,643 180.3,643.4 182.5,644.2 C184.7,645.1 187.9,646.4 189.8,647.2 C191.8,647.9 192.7,647.8 194.2,648.6 C195.7,649.5 198.1,651.7 198.9,652.3"/>
<path d="M164.3,637.2 C165.6,637.9 169.7,640.1 172.3,641.3 C174.9,642.5 177.2,643.4 179.6,644.2 C182,645.1 184.7,645.8 186.9,646.4 C189.1,647 191.8,647.6 192.7,647.9"/>
<path d="M191.3,647.9 C192.7,646.8 197.1,643.6 200,641.3 C203,639 205.9,636.7 208.8,634 C211.7,631.3 214.6,628.4 217.6,625.3 C220.5,622.1 223.4,618.7 226.3,615 C229.2,611.4 232.2,607 235.1,603.4 C238,599.7 240.9,596.5 243.8,593.1 C246.8,589.7 250.6,585.2 252.6,582.9 C254.6,580.6 255.3,579.9 255.8,579.3"/>
<path d="M192.7,648.6 C194.2,647.5 198.6,644.4 201.5,642 C204.4,639.7 207.3,637.3 210.3,634.7 C213.2,632.2 216.1,629.8 219,626.7 C221.9,623.7 224.9,620.1 227.8,616.5 C230.7,612.8 233.6,608.5 236.5,604.8 C239.5,601.2 242.4,598.1 245.3,594.6 C248.2,591.1 252.1,586.2 254.1,583.6 C256,581.1 256.7,580 257.3,579.3"/>
<path d="M194.2,649.3 C195.9,648 201,644.4 204.4,641.3 C207.8,638.3 211.5,634.3 214.6,631.1 C217.8,627.9 220.5,625.5 223.4,622.3 C226.3,619.2 229.2,615.5 232.2,612.1 C235.1,608.7 238,605.5 240.9,601.9 C243.8,598.2 246.7,594 249.7,590.2 C252.6,586.4 257.2,581.1 258.7,579.3"/>
<path d="M204.1,652.3 C205.6,651.2 210.2,648 213.2,645.7 C216.1,643.4 219,641.1 221.9,638.4 C224.9,635.7 227.8,632.8 230.7,629.6 C233.6,626.5 236.5,622.8 239.5,619.4 C242.4,616 245.5,612.1 248.2,609.2 C250.9,606.3 252.6,603.7 255.5,601.9 C258.4,600.1 264,598.9 265.7,598.2"/>
<path d="M207,652.3 C208.6,651.2 213.1,648.2 216.1,645.7 C219.1,643.1 221.9,640.1 224.9,636.9 C227.8,633.8 230.7,630.1 233.6,626.7 C236.5,623.3 239.5,619.9 242.4,616.5 C245.3,613.1 248.5,609 251.1,606.3 C253.8,603.6 257.2,601.4 258.4,600.4"/>
<path d="M239.2,652.3 C239.9,649.5 242.3,640.9 243.8,635.5 C245.3,630 246.8,624.8 248.2,619.4 C249.7,614.1 251.1,608.5 252.6,603.4 C254.1,598.2 255.7,592.8 257,588.8 C258.2,584.7 259.6,580.9 260.2,579.3"/>
<path d="M164.3,648.6 C165.6,648.9 169.7,649.6 172.3,650.1 C174.9,650.6 178.4,651.3 179.6,651.5"/>
</g>
<clipPath id="vb28"><rect x="0" y="589" width="700" height="131"/></clipPath>
<g clip-path="url(#vb28)">
<path d="M259.3,599.3 C260.3,599.1 263.5,598.2 265.5,598.2 C267.6,598.3 269.7,598.7 271.7,599.7 C273.7,600.7 275.6,602.3 277.5,604.1 C279.5,605.9 281.4,608.3 283.4,610.7 C285.3,613 287,615.3 289.2,618 C291.4,620.6 294.1,623.8 296.5,626.7 C298.9,629.6 301.4,632.8 303.8,635.5 C306.2,638.2 308.5,640 311.1,642.8 C313.6,645.6 317.8,650.7 319.1,652.3"/>
<path d="M269.9,579.3 C270.7,581.8 273.1,589.6 274.6,594.6 C276.1,599.6 277.5,604.6 279,609.2 C280.4,613.8 281.9,618 283.4,622.3 C284.8,626.7 286.2,630.5 287.7,635.5 C289.3,640.5 291.8,649.5 292.6,652.3"/>
<path d="M273.6,579.3 C274.7,580.6 278.3,584.5 280.4,587.3 C282.6,590.1 284.3,593.1 286.3,596.1 C288.2,599 290.2,601.9 292.1,604.8 C294.1,607.7 296,610.4 298,613.6 C299.9,616.7 301.8,620.4 303.8,623.8 C305.7,627.2 307.7,630.9 309.6,634 C311.6,637.2 313.7,639.7 315.5,642.8 C317.3,645.8 319.5,650.7 320.3,652.3"/>
<path d="M275.8,579.3 C276.8,580.9 279.9,585.5 281.9,588.8 C283.9,592 285.8,595.6 287.7,599 C289.7,602.4 291.6,605.9 293.6,609.2 C295.5,612.5 297.5,615.5 299.4,618.7 C301.4,621.8 303.3,624.9 305.3,628.2 C307.2,631.5 309.1,635.2 311.1,638.4 C313,641.6 315.5,644.8 316.9,647.2 C318.3,649.5 319.1,651.4 319.6,652.3"/>
</g>
<path d="M363.4,652.2 C364.1,651.4 366,648.6 367.3,647.3 C368.5,646 369,645.5 370.8,644.7 C372.5,643.8 375.7,643 377.8,642 C379.8,641.1 381.6,640.1 383,638.9 C384.5,637.7 385.4,634.8 386.5,635 C387.7,635.3 388.9,638.5 390,640.3 C391.2,642 392.3,643.6 393.5,645.5 C394.8,647.5 396.9,651.1 397.6,652.2"/>
<path d="M369.9,645.5 C371.2,645.1 375.4,643.9 377.8,642.9 C380.1,642 382.4,641 383.9,639.9 C385.4,638.9 385.4,636.3 386.5,636.8 C387.7,637.3 389.2,640.4 390.9,642.9 C392.6,645.5 395.6,650.7 396.5,652.2"/>
<path d="M369.4,652.2 C369.6,651.9 369.7,650.7 370.8,650.5 C371.9,650.2 374,650.5 376,650.5 C378.1,650.5 381.3,650.6 383,650.5 C384.8,650.3 385.5,649.1 386.5,649.4 C387.6,649.7 389,651.7 389.5,652.2"/>
<path d="M438.7,652.2 C439.4,651.4 441.4,648.7 442.6,647.3 C443.8,645.9 444.3,644.7 446.1,643.8 C447.8,642.9 450.8,642.3 453.1,642 C455.4,641.8 457.8,641.9 460.1,642 C462.4,642.2 464.9,642.6 467.1,642.9 C469.3,643.2 472.2,643.6 473.2,643.8"/>
<path d="M440.5,652.2 C441.4,651 444,646.7 446.1,645.2 C448.2,643.7 450.2,643.7 453.1,643.4 C456,643.2 460.3,643.6 463.6,643.8 C467,644 471.6,644.5 473.2,644.7"/>
<path d="M444,652.2 C444.5,651.9 445.8,650.3 447,650.3 C448.1,650.3 450.2,651.9 450.8,652.2"/>
</g>
<g clip-path="url(#cdb)" fill="none" stroke-linejoin="round">
<path d="M509.5,372.8 509,378.7 508.5,385.7 507.8,395 506.7,406.7 507.8,416.1 509,419.6 506.7,425.4 505.5,437.1 504.3,444.1 503.2,453.4 502,460.4 500.8,472.1 500.6,483.8 500.6,497.8 500.8,507 503.2,511.7 504.3,518.7 504.8,530.4 504.8,542 504.3,551.4 503.2,556.1 501.5,565.4 500.8,577.1 500.1,600.4 501.5,623.8 503.2,635.5 504.3,651.8" stroke="#33e033" stroke-width="1.1"/>
<path d="M657.1,378.9 650.4,379 629.3,380 612.7,381.4 622.4,382.5 637.7,383.3 650.4,383.7 657.1,383.9 657.1,385.8 650.4,385.9 629.3,386.4 609.2,389.1 622.4,390.8 636.3,393.6 648.8,396.4 650.4,397 648.8,397.7 643.2,399.8 633.5,401.9 626.6,404.7 632.1,406.8 643.2,407.7 650.1,408.1 648.8,409.5 644.6,410.9 648.8,412.3 650.1,413.7 648.8,415.1 644.6,416.5 648.8,417.8 650.1,419.2 646,421.3 637.7,422.7 632.1,424.1 629.3,425.5 634.9,426.9 646,427.1 640.4,428.2 626.6,429.6 615.5,430.3 604.4,431 597.4,433.1 591.2,435.9 596.1,437.3 601.6,438.6 609.9,440.7 612.7,442.1 618.2,443.5 623.8,444.9 626.6,446.3 621,447.7 611.8,447.6 593.1,449.9 576.8,453.4 560.4,456.9 551.1,462.8 562.7,466.3 565.1,468.6 553.4,472.1 541.7,475.6 532.4,479.1 527.7,483.8 523,490.8 519.5,496.6 517.2,501.3 518.4,504.8 518.4,507 519.5,511.7 530,515.2 544.1,518.2 530,522.2 523,525.7 521.9,529.2 523,537.4 525.4,543.2 523,547.9 526.5,551.4 520.7,553.7 525.4,556.1 518.4,559.6 516,565.4 513.7,570.1 509,574.7 506.7,579.4 506.7,584.1 504.3,588.8 506.7,592.3 511.4,595.8 518.4,605.1 525.4,609.8 537,613.3 548.7,619.1 560.4,623.8 569.7,628.5 583.8,634.3 593.1,637.8 602.4,641.3 614.1,643.6 597.8,644.8 593.1,646.7 604.8,647.1 625.8,649.5 639.8,650.6 658.5,651.4" stroke="#ff2020" stroke-width="1.1"/>
<path d="M663.2,453 650.3,453.4 635.1,455.8 611.8,459.3 588.4,461.6 586.1,463.9 600.1,466.3 616.5,468.6 600.1,470.9 576.8,474.4 560.4,476.8 546.4,479.1 537,483.8 532.4,490.8 530,497.8 525.4,502.5 524.2,506 530,507.2 548.2,509 566.5,510.8 584.7,512.3 603,513.2 621.2,514.1 639.5,514.9 649.5,515.2 661.4,515.6" stroke="#111" stroke-width="1.1"/>
<path d="M661.4,523.8 649.5,524.2 646.8,525.4 639.5,526.5 628.5,527.3 617.6,527.8 610.3,529.1 606.6,531.5 604.8,535.1 606.6,537.8 613.9,540.6 618.5,543.3 612.1,545.1 606.6,547.9 610.3,549.7 621.2,551.5 628.5,552.8 621.2,553.9 608.5,554.6 599.3,555.7 590.2,557 593.9,557.9 606.6,558.3 603,559.4 592,560.7 581.1,562.5 576.5,564.3 577.4,566.1 584.7,567 594.8,568.5 588.4,569.2 582.9,569.8 582,571.6 584.7,572.9 588.4,573.4 581.1,574.3 573.8,575.3 566.5,576.2 555.5,577.1 550.1,578.9 548.2,580.7 553.7,582.6 561.9,584.4 551.9,585.3 544.6,586.2 537.3,587.1 535.5,588.9 539.1,590.8 548.2,592.2 559.2,594.4 568.3,596.2 573.8,599 570.1,599.9 577.4,600.8 584.7,602.6 592,604.5 599.3,606.3 610.3,608.1 624.9,609.9 639.5,611.2 649.5,611.8 661.4,612.3" stroke="#111" stroke-width="1.1"/>
<path d="M503.9,372.8 504.3,378.7 505.5,383.8 510.2,385.2 505.5,386.9 504.3,392.7 505.5,402 506.7,413.7 508.5,419.6 512.5,421.2 507.8,423.1 506.7,432.4 505.5,441.7 504.3,448.8 503.2,458.1 502,465.1 500.8,474.4 500.1,483.8 500.1,495.5 500.8,504.8 500.8,507 504.3,509.3 513.7,512.8 525.4,516.3 520.7,521 513.7,525.7 511.4,530.4 510.2,537.4 509,546.7 509,550.2 511.4,552.5 506.7,554.9 504.3,557.2 502,563.1 500.8,577.1 500.1,588.8 500.1,600.4 500.8,612.1 503.2,623.8 504.3,635.5 506.7,642.5 504.3,647.1 506.7,651.8" stroke="#1010f0" stroke-width="2.0"/>
</g>
<line x1="71.3" y1="512.1" x2="473.4" y2="512.1" stroke="#ef7519" stroke-width="1.6" stroke-dasharray="7.8,6.78" stroke-dashoffset="1.0"/>
<line x1="499.2" y1="512.3" x2="649.8" y2="512.3" stroke="#f28a38" stroke-width="1.3" stroke-dasharray="5.8,3.9"/>
<path d="M71.3,372.4 H473.4 V651" fill="none" stroke="#666" stroke-width="1.1"/>
<path d="M71.3,372.4 V651 H473.4" fill="none" stroke="#222" stroke-width="1.5"/>
<path d="M499.2,372.4 H649.8 V651" fill="none" stroke="#666" stroke-width="1.1"/>
<path d="M499.2,372.4 V651 H649.8" fill="none" stroke="#222" stroke-width="1.5"/>
<line x1="71.3" y1="651" x2="79.3" y2="651" stroke="#222" stroke-width="1.3"/>
<line x1="499.2" y1="651" x2="503.5" y2="651" stroke="#222" stroke-width="1.2"/>
<line x1="71.3" y1="627.8" x2="75.3" y2="627.8" stroke="#222" stroke-width="1.3"/>
<line x1="499.2" y1="627.8" x2="501.2" y2="627.8" stroke="#222" stroke-width="1.2"/>
<line x1="71.3" y1="604.6" x2="79.3" y2="604.6" stroke="#222" stroke-width="1.3"/>
<line x1="499.2" y1="604.6" x2="503.5" y2="604.6" stroke="#222" stroke-width="1.2"/>
<line x1="71.3" y1="581.4" x2="75.3" y2="581.4" stroke="#222" stroke-width="1.3"/>
<line x1="499.2" y1="581.4" x2="501.2" y2="581.4" stroke="#222" stroke-width="1.2"/>
<line x1="71.3" y1="558.1" x2="79.3" y2="558.1" stroke="#222" stroke-width="1.3"/>
<line x1="499.2" y1="558.1" x2="503.5" y2="558.1" stroke="#222" stroke-width="1.2"/>
<line x1="71.3" y1="534.9" x2="75.3" y2="534.9" stroke="#222" stroke-width="1.3"/>
<line x1="499.2" y1="534.9" x2="501.2" y2="534.9" stroke="#222" stroke-width="1.2"/>
<line x1="71.3" y1="511.7" x2="79.3" y2="511.7" stroke="#222" stroke-width="1.3"/>
<line x1="499.2" y1="511.7" x2="503.5" y2="511.7" stroke="#222" stroke-width="1.2"/>
<line x1="71.3" y1="488.5" x2="75.3" y2="488.5" stroke="#222" stroke-width="1.3"/>
<line x1="499.2" y1="488.5" x2="501.2" y2="488.5" stroke="#222" stroke-width="1.2"/>
<line x1="71.3" y1="465.3" x2="79.3" y2="465.3" stroke="#222" stroke-width="1.3"/>
<line x1="499.2" y1="465.3" x2="503.5" y2="465.3" stroke="#222" stroke-width="1.2"/>
<line x1="71.3" y1="442" x2="75.3" y2="442" stroke="#222" stroke-width="1.3"/>
<line x1="499.2" y1="442" x2="501.2" y2="442" stroke="#222" stroke-width="1.2"/>
<line x1="71.3" y1="418.8" x2="79.3" y2="418.8" stroke="#222" stroke-width="1.3"/>
<line x1="499.2" y1="418.8" x2="503.5" y2="418.8" stroke="#222" stroke-width="1.2"/>
<line x1="71.3" y1="395.6" x2="75.3" y2="395.6" stroke="#222" stroke-width="1.3"/>
<line x1="499.2" y1="395.6" x2="501.2" y2="395.6" stroke="#222" stroke-width="1.2"/>
<line x1="71.3" y1="372.4" x2="79.3" y2="372.4" stroke="#222" stroke-width="1.3"/>
<line x1="499.2" y1="372.4" x2="503.5" y2="372.4" stroke="#222" stroke-width="1.2"/>
<line x1="524.3" y1="651" x2="524.3" y2="648.5" stroke="#222" stroke-width="1.2"/>
<line x1="549.4" y1="651" x2="549.4" y2="646" stroke="#222" stroke-width="1.2"/>
<line x1="574.5" y1="651" x2="574.5" y2="648.5" stroke="#222" stroke-width="1.2"/>
<line x1="599.6" y1="651" x2="599.6" y2="646" stroke="#222" stroke-width="1.2"/>
<line x1="624.7" y1="651" x2="624.7" y2="648.5" stroke="#222" stroke-width="1.2"/>
<text x="61.2" y="379" font-size="20" text-anchor="end">6</text>
<text x="61.2" y="425.4" font-size="20" text-anchor="end">4</text>
<text x="61.2" y="471.9" font-size="20" text-anchor="end">2</text>
<text x="61.2" y="518.3" font-size="20" text-anchor="end">0</text>
<text x="61.2" y="564.7" font-size="20" text-anchor="end">-2</text>
<text x="61.2" y="611.2" font-size="20" text-anchor="end">-4</text>
<text x="61.2" y="657.6" font-size="20" text-anchor="end">-6</text>
<text x="499.2" y="673.7" font-size="18.8" text-anchor="middle">0.0</text>
<text x="548.2" y="673.7" font-size="18.8" text-anchor="middle">0.1</text>
<text x="599" y="673.7" font-size="18.8" text-anchor="middle">0.2</text>
<text x="649.5" y="673.7" font-size="18.8" text-anchor="middle">0.3</text>
<text class="g" x="67" y="678" font-size="22" text-anchor="middle">&#915;</text>
<text x="133.2" y="678" font-size="22" text-anchor="middle">X</text>
<text x="175.8" y="678" font-size="22" text-anchor="middle">WK</text>
<text class="g" x="263.8" y="678" font-size="22" text-anchor="middle">&#915;</text>
<text x="342.5" y="678" font-size="22" text-anchor="middle">L</text>
<text x="379.3" y="678" font-size="22" text-anchor="middle">UW</text>
<text x="419.8" y="678" font-size="22" text-anchor="middle">L</text>
<text x="449.5" y="678" font-size="22" text-anchor="middle">K|U</text>
<text x="479" y="678" font-size="22" text-anchor="middle">X</text>
<text x="573.3" y="699.3" font-size="22.6" text-anchor="middle">DOS (states/eV/atom)</text>
<text x="0" y="0" font-size="23.3" text-anchor="middle" transform="translate(27.9,511.2) rotate(-90)">Energy (eV)</text>
<text x="-0.8" y="19.6" font-size="27" letter-spacing="0.7">(a)</text>
<text x="0.2" y="379" font-size="27" letter-spacing="0.7">(b)</text>
<text x="510.7" y="53" font-size="21" style="fill:#40e020">N-<tspan font-style="italic">p</tspan></text>
<text x="563" y="46.9" font-size="21" style="fill:#ff1010">Zr-<tspan font-style="italic">d</tspan></text>
<text x="509.5" y="101.9" font-size="21" style="fill:#1414f0">H-<tspan font-style="italic">s</tspan></text>
<text x="575.2" y="190.8" font-size="21">total</text>
<text x="518.6" y="402.8" font-size="21" style="fill:#40e020">N-<tspan font-style="italic">p</tspan></text>
<text x="585.3" y="411.3" font-size="21" style="fill:#ff1010">Zr-<tspan font-style="italic">d</tspan></text>
<text x="510.2" y="467.8" font-size="21" style="fill:#1414f0">H-<tspan font-style="italic">s</tspan></text>
<text x="558.8" y="543" font-size="21">total</text>
</svg></body></html>
